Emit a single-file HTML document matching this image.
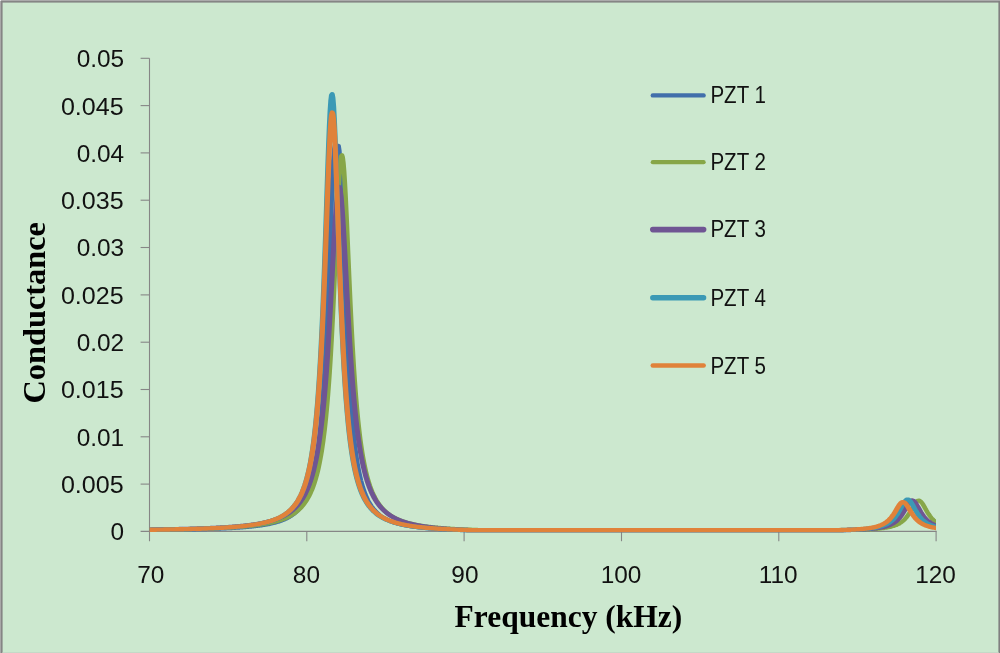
<!DOCTYPE html>
<html lang="en">
<head>
<meta charset="utf-8">
<title>Conductance vs Frequency</title>
<style>
html,body{margin:0;padding:0;background:#cce8cf;}
body{width:1000px;height:653px;overflow:hidden;position:relative;}
svg{position:absolute;left:0;top:0;display:block;}
.tick{font-family:"Liberation Sans",Arial,sans-serif;font-size:24.4px;fill:#111;}
.leg{font-family:"Liberation Sans",Arial,sans-serif;font-size:23px;fill:#111;}
.ttl{font-family:"Liberation Serif","Times New Roman",serif;font-weight:bold;font-size:30.5px;fill:#000;}
.vttl{font-family:"Liberation Serif","Times New Roman",serif;font-weight:bold;font-size:32px;fill:#000;}
</style>
</head>
<body>
<svg width="1000" height="653" viewBox="0 0 1000 653">
<rect x="0" y="0" width="1000" height="653" fill="#cce8cf"/>
<!-- frame -->
<rect x="0" y="0" width="1000" height="1" fill="#ababab"/>
<rect x="0" y="1" width="1000" height="1.6" fill="#858585"/>
<rect x="0" y="0" width="1" height="653" fill="#a8a8a8"/>
<rect x="1" y="1" width="1.6" height="653" fill="#858585"/>
<rect x="998.4" y="1" width="1.6" height="653" fill="#808080"/>
<rect x="2.6" y="652" width="996" height="1" fill="#c4d9c7"/>
<rect x="0" y="0" width="1" height="1" fill="#e8e8e8"/>

<g stroke="#868686" stroke-width="1.1" fill="none">
<path d="M149.5,58.3 V541.2"/>
<path d="M140.6,531.4 H936.7"/>
<path d="M140.6,484.1 H149.5"/>
<path d="M140.6,436.8 H149.5"/>
<path d="M140.6,389.5 H149.5"/>
<path d="M140.6,342.2 H149.5"/>
<path d="M140.6,294.9 H149.5"/>
<path d="M140.6,247.5 H149.5"/>
<path d="M140.6,200.2 H149.5"/>
<path d="M140.6,152.9 H149.5"/>
<path d="M140.6,105.6 H149.5"/>
<path d="M140.6,58.3 H149.5"/>
<path d="M306.8,531.4 V541.2"/>
<path d="M464.1,531.4 V541.2"/>
<path d="M621.5,531.4 V541.2"/>
<path d="M778.8,531.4 V541.2"/>
<path d="M936.1,531.4 V541.2"/>
</g>
<text class="tick" x="124.2" y="540.3" text-anchor="end">0</text>
<text class="tick" x="60.9" y="493.0" textLength="62.7" lengthAdjust="spacingAndGlyphs">0.005</text>
<text class="tick" x="124.2" y="445.7" text-anchor="end">0.01</text>
<text class="tick" x="60.9" y="398.4" textLength="62.7" lengthAdjust="spacingAndGlyphs">0.015</text>
<text class="tick" x="124.2" y="351.1" text-anchor="end">0.02</text>
<text class="tick" x="60.9" y="303.8" textLength="62.7" lengthAdjust="spacingAndGlyphs">0.025</text>
<text class="tick" x="124.2" y="256.4" text-anchor="end">0.03</text>
<text class="tick" x="60.9" y="209.1" textLength="62.7" lengthAdjust="spacingAndGlyphs">0.035</text>
<text class="tick" x="124.2" y="161.8" text-anchor="end">0.04</text>
<text class="tick" x="60.9" y="114.5" textLength="62.7" lengthAdjust="spacingAndGlyphs">0.045</text>
<text class="tick" x="124.2" y="67.2" text-anchor="end">0.05</text>
<text class="tick" x="150.8" y="583.1" text-anchor="middle">70</text>
<text class="tick" x="306.4" y="583.1" text-anchor="middle">80</text>
<text class="tick" x="464.9" y="583.1" text-anchor="middle">90</text>
<text class="tick" x="621.0" y="583.1" text-anchor="middle">100</text>
<text class="tick" x="778.2" y="583.1" text-anchor="middle">110</text>
<text class="tick" x="935.5" y="583.1" text-anchor="middle">120</text>
<clipPath id="plotclip"><rect x="140" y="40" width="796.1" height="510"/></clipPath>
<g fill="none" stroke-linejoin="round" stroke-linecap="butt" clip-path="url(#plotclip)"><g transform="scale(1.17,1)">
<path stroke="#416fab" stroke-width="4.1" d="M127.78,530.0 L128.38,530.0 L128.97,530.0 L129.57,530.0 L130.17,530.0 L130.77,530.0 L131.37,530.0 L131.97,530.0 L132.56,530.0 L133.16,530.0 L133.76,529.9 L134.36,529.9 L134.96,529.9 L135.56,529.9 L136.15,529.9 L136.75,529.9 L137.35,529.9 L137.95,529.9 L138.55,529.9 L139.15,529.9 L139.74,529.9 L140.34,529.9 L140.94,529.9 L141.54,529.8 L142.14,529.8 L142.74,529.8 L143.33,529.8 L143.93,529.8 L144.53,529.8 L145.13,529.8 L145.73,529.8 L146.32,529.8 L146.92,529.8 L147.52,529.7 L148.12,529.7 L148.72,529.7 L149.32,529.7 L149.91,529.7 L150.51,529.7 L151.11,529.7 L151.71,529.7 L152.31,529.7 L152.91,529.7 L153.50,529.6 L154.10,529.6 L154.70,529.6 L155.30,529.6 L155.90,529.6 L156.50,529.6 L157.09,529.6 L157.69,529.6 L158.29,529.5 L158.89,529.5 L159.49,529.5 L160.09,529.5 L160.68,529.5 L161.28,529.5 L161.88,529.5 L162.48,529.5 L163.08,529.4 L163.68,529.4 L164.27,529.4 L164.87,529.4 L165.47,529.4 L166.07,529.4 L166.67,529.4 L167.26,529.3 L167.86,529.3 L168.46,529.3 L169.06,529.3 L169.66,529.3 L170.26,529.3 L170.85,529.2 L171.45,529.2 L172.05,529.2 L172.65,529.2 L173.25,529.2 L173.85,529.2 L174.44,529.1 L175.04,529.1 L175.64,529.1 L176.24,529.1 L176.84,529.1 L177.44,529.0 L178.03,529.0 L178.63,529.0 L179.23,529.0 L179.83,529.0 L180.43,528.9 L181.03,528.9 L181.62,528.9 L182.22,528.9 L182.82,528.8 L183.42,528.8 L184.02,528.8 L184.62,528.8 L185.21,528.7 L185.81,528.7 L186.41,528.7 L187.01,528.7 L187.61,528.6 L188.21,528.6 L188.80,528.6 L189.40,528.5 L190.00,528.5 L190.60,528.5 L191.20,528.5 L191.79,528.4 L192.39,528.4 L192.99,528.4 L193.59,528.3 L194.19,528.3 L194.79,528.3 L195.38,528.2 L195.98,528.2 L196.58,528.2 L197.18,528.1 L197.78,528.1 L198.38,528.1 L198.97,528.0 L199.57,528.0 L200.17,527.9 L200.77,527.9 L201.37,527.8 L201.97,527.8 L202.56,527.8 L203.16,527.7 L203.76,527.7 L204.36,527.6 L204.96,527.6 L205.56,527.5 L206.15,527.5 L206.75,527.4 L207.35,527.4 L207.95,527.3 L208.55,527.3 L209.15,527.2 L209.74,527.2 L210.34,527.1 L210.94,527.0 L211.54,527.0 L212.14,526.9 L212.74,526.8 L213.33,526.8 L213.93,526.7 L214.53,526.6 L215.13,526.6 L215.73,526.5 L216.32,526.4 L216.92,526.3 L217.52,526.3 L218.12,526.2 L218.72,526.1 L219.32,526.0 L219.91,525.9 L220.51,525.8 L221.11,525.8 L221.71,525.7 L222.31,525.6 L222.91,525.5 L223.50,525.4 L224.10,525.3 L224.70,525.1 L225.30,525.0 L225.90,524.9 L226.50,524.8 L227.09,524.7 L227.69,524.6 L228.29,524.4 L228.89,524.3 L229.49,524.2 L230.09,524.0 L230.68,523.9 L231.28,523.7 L231.88,523.6 L232.48,523.4 L233.08,523.2 L233.68,523.1 L234.27,522.9 L234.87,522.7 L235.47,522.5 L236.07,522.3 L236.67,522.1 L237.26,521.9 L237.86,521.7 L238.46,521.5 L239.06,521.2 L239.66,521.0 L240.26,520.7 L240.85,520.5 L241.45,520.2 L242.05,519.9 L242.65,519.6 L243.25,519.3 L243.85,519.0 L244.44,518.7 L245.04,518.3 L245.64,518.0 L246.24,517.6 L246.84,517.2 L247.44,516.8 L248.03,516.4 L248.63,516.0 L249.23,515.5 L249.83,515.0 L250.43,514.5 L251.03,514.0 L251.62,513.4 L252.22,512.8 L252.82,512.2 L253.42,511.5 L254.02,510.9 L254.62,510.1 L255.21,509.4 L255.81,508.6 L256.41,507.7 L257.01,506.9 L257.61,505.9 L258.21,504.9 L258.80,503.9 L259.40,502.7 L260.00,501.6 L260.60,500.3 L261.20,499.0 L261.79,497.5 L262.39,496.0 L262.99,494.4 L263.59,492.6 L264.19,490.8 L264.79,488.8 L265.38,486.6 L265.98,484.3 L266.58,481.8 L267.18,479.2 L267.78,476.3 L268.38,473.2 L268.97,469.8 L269.57,466.2 L270.17,462.2 L270.77,457.9 L271.37,453.2 L271.97,448.0 L272.56,442.4 L273.16,436.3 L273.76,429.6 L274.36,422.3 L274.96,414.2 L275.56,405.4 L276.15,395.7 L276.75,385.0 L277.35,373.4 L277.95,360.7 L278.55,346.8 L279.15,331.7 L279.74,315.5 L280.34,298.1 L280.94,279.7 L281.54,260.5 L282.14,240.9 L282.74,221.3 L283.33,202.4 L283.93,184.9 L284.53,169.7 L285.13,157.7 L285.73,149.5 L286.32,145.8 L286.92,145.6 L287.52,145.6 L288.12,145.6 L288.72,145.6 L289.32,146.0 L289.91,150.4 L290.51,159.2 L291.11,171.8 L291.71,187.4 L292.31,205.1 L292.91,224.2 L293.50,243.9 L294.10,263.5 L294.70,282.7 L295.30,301.0 L295.90,318.3 L296.50,334.4 L297.09,349.3 L297.69,363.1 L298.29,375.7 L298.89,387.3 L299.49,397.8 L300.09,407.4 L300.68,416.2 L301.28,424.2 L301.88,431.4 L302.48,438.1 L303.08,444.1 L303.68,449.7 L304.27,454.8 L304.87,459.4 L305.47,463.7 L306.07,467.7 L306.67,471.3 L307.26,474.6 L307.86,477.7 L308.46,480.6 L309.06,483.2 L309.66,485.7 L310.26,488.0 L310.85,490.1 L311.45,492.1 L312.05,494.0 L312.65,495.7 L313.25,497.3 L313.85,498.8 L314.44,500.3 L315.04,501.6 L315.64,502.8 L316.24,504.0 L316.84,505.1 L317.44,506.2 L318.03,507.2 L318.63,508.1 L319.23,509.0 L319.83,509.8 L320.43,510.6 L321.03,511.4 L321.62,512.1 L322.22,512.8 L322.82,513.4 L323.42,514.0 L324.02,514.6 L324.62,515.2 L325.21,515.7 L325.81,516.2 L326.41,516.7 L327.01,517.2 L327.61,517.6 L328.21,518.0 L328.80,518.4 L329.40,518.8 L330.00,519.2 L330.60,519.6 L331.20,519.9 L331.79,520.2 L332.39,520.5 L332.99,520.8 L333.59,521.1 L334.19,521.4 L334.79,521.7 L335.38,522.0 L335.98,522.2 L336.58,522.4 L337.18,522.7 L337.78,522.9 L338.38,523.1 L338.97,523.3 L339.57,523.5 L340.17,523.7 L340.77,523.9 L341.37,524.1 L341.97,524.3 L342.56,524.4 L343.16,524.6 L343.76,524.8 L344.36,524.9 L344.96,525.1 L345.56,525.2 L346.15,525.4 L346.75,525.5 L347.35,525.6 L347.95,525.8 L348.55,525.9 L349.15,526.0 L349.74,526.1 L350.34,526.2 L350.94,526.3 L351.54,526.5 L352.14,526.6 L352.74,526.7 L353.33,526.8 L353.93,526.9 L354.53,527.0 L355.13,527.0 L355.73,527.1 L356.32,527.2 L356.92,527.3 L357.52,527.4 L358.12,527.5 L358.72,527.5 L359.32,527.6 L359.91,527.7 L360.51,527.8 L361.11,527.8 L361.71,527.9 L362.31,528.0 L362.91,528.0 L363.50,528.1 L364.10,528.2 L364.70,528.2 L365.30,528.3 L365.90,528.3 L366.50,528.4 L367.09,528.5 L367.69,528.5 L368.29,528.6 L368.89,528.6 L369.49,528.7 L370.09,528.7 L370.68,528.8 L371.28,528.8 L371.88,528.9 L372.48,528.9 L373.08,529.0 L373.68,529.0 L374.27,529.0 L374.87,529.1 L375.47,529.1 L376.07,529.2 L376.67,529.2 L377.26,529.2 L377.86,529.3 L378.46,529.3 L379.06,529.4 L379.66,529.4 L380.26,529.4 L380.85,529.5 L381.45,529.5 L382.05,529.5 L382.65,529.6 L383.25,529.6 L383.85,529.6 L384.44,529.7 L385.04,529.7 L385.64,529.7 L386.24,529.7 L386.84,529.8 L387.44,529.8 L388.03,529.8 L388.63,529.9 L389.23,529.9 L389.83,529.9 L390.43,529.9 L391.03,530.0 L391.62,530.0 L392.22,530.0 L392.82,530.0 L393.42,530.1 L394.02,530.1 L394.62,530.1 L395.21,530.1 L395.81,530.1 L396.41,530.1 L397.01,530.1 L397.61,530.1 L398.21,530.1 L398.80,530.1 L399.40,530.1 L400.00,530.1 L400.60,530.1 L401.20,530.1 L401.79,530.1 L402.39,530.1 L402.99,530.1 L403.59,530.1 L404.19,530.1 L404.79,530.1 L405.38,530.1 L405.98,530.1 L406.58,530.1 L407.18,530.1 L407.78,530.1 L408.38,530.1 L408.97,530.1 L409.57,530.1 L410.17,530.1 L410.77,530.1 L411.37,530.1 L411.97,530.1 L412.56,530.1 L413.16,530.1 L413.76,530.1 L414.36,530.1 L414.96,530.1 L415.56,530.1 L416.15,530.1 L416.75,530.1 L417.35,530.1 L417.95,530.1 L418.55,530.1 L419.15,530.1 L419.74,530.1 L420.34,530.1 L420.94,530.1 L421.54,530.1 L422.14,530.1 L422.74,530.1 L423.33,530.1 L423.93,530.1 L424.53,530.1 L425.13,530.1 L425.73,530.1 L426.32,530.1 L426.92,530.1 L427.52,530.1 L428.12,530.1 L428.72,530.1 L429.32,530.1 L429.91,530.1 L430.51,530.1 L431.11,530.1 L431.71,530.1 L432.31,530.1 L432.91,530.1 L433.50,530.1 L434.10,530.1 L434.70,530.1 L435.30,530.1 L435.90,530.1 L436.50,530.1 L437.09,530.1 L437.69,530.1 L438.29,530.1 L438.89,530.1 L439.49,530.1 L440.09,530.1 L440.68,530.1 L441.28,530.1 L441.88,530.1 L442.48,530.1 L443.08,530.1 L443.68,530.1 L444.27,530.1 L444.87,530.1 L445.47,530.1 L446.07,530.1 L446.67,530.1 L447.26,530.1 L447.86,530.1 L448.46,530.1 L449.06,530.1 L449.66,530.1 L450.26,530.1 L450.85,530.1 L451.45,530.1 L452.05,530.1 L452.65,530.1 L453.25,530.1 L453.85,530.1 L454.44,530.1 L455.04,530.1 L455.64,530.1 L456.24,530.1 L456.84,530.1 L457.44,530.1 L458.03,530.1 L458.63,530.1 L459.23,530.1 L459.83,530.1 L460.43,530.1 L461.03,530.1 L461.62,530.1 L462.22,530.1 L462.82,530.1 L463.42,530.1 L464.02,530.1 L464.62,530.1 L465.21,530.1 L465.81,530.1 L466.41,530.1 L467.01,530.1 L467.61,530.1 L468.21,530.1 L468.80,530.1 L469.40,530.1 L470.00,530.1 L470.60,530.1 L471.20,530.1 L471.79,530.1 L472.39,530.1 L472.99,530.1 L473.59,530.1 L474.19,530.1 L474.79,530.1 L475.38,530.1 L475.98,530.1 L476.58,530.1 L477.18,530.1 L477.78,530.1 L478.38,530.1 L478.97,530.1 L479.57,530.1 L480.17,530.1 L480.77,530.1 L481.37,530.1 L481.97,530.1 L482.56,530.1 L483.16,530.1 L483.76,530.1 L484.36,530.1 L484.96,530.1 L485.56,530.1 L486.15,530.1 L486.75,530.1 L487.35,530.1 L487.95,530.1 L488.55,530.1 L489.15,530.1 L489.74,530.1 L490.34,530.1 L490.94,530.1 L491.54,530.1 L492.14,530.1 L492.74,530.1 L493.33,530.1 L493.93,530.1 L494.53,530.1 L495.13,530.1 L495.73,530.1 L496.32,530.1 L496.92,530.1 L497.52,530.1 L498.12,530.1 L498.72,530.1 L499.32,530.1 L499.91,530.1 L500.51,530.1 L501.11,530.1 L501.71,530.1 L502.31,530.1 L502.91,530.1 L503.50,530.1 L504.10,530.1 L504.70,530.1 L505.30,530.1 L505.90,530.1 L506.50,530.1 L507.09,530.1 L507.69,530.1 L508.29,530.1 L508.89,530.1 L509.49,530.1 L510.09,530.1 L510.68,530.1 L511.28,530.1 L511.88,530.1 L512.48,530.1 L513.08,530.1 L513.68,530.1 L514.27,530.1 L514.87,530.1 L515.47,530.1 L516.07,530.1 L516.67,530.1 L517.26,530.1 L517.86,530.1 L518.46,530.1 L519.06,530.1 L519.66,530.1 L520.26,530.1 L520.85,530.1 L521.45,530.1 L522.05,530.1 L522.65,530.1 L523.25,530.1 L523.85,530.1 L524.44,530.1 L525.04,530.1 L525.64,530.1 L526.24,530.1 L526.84,530.1 L527.44,530.1 L528.03,530.1 L528.63,530.1 L529.23,530.1 L529.83,530.1 L530.43,530.1 L531.03,530.1 L531.62,530.1 L532.22,530.1 L532.82,530.1 L533.42,530.1 L534.02,530.1 L534.62,530.1 L535.21,530.1 L535.81,530.1 L536.41,530.1 L537.01,530.1 L537.61,530.1 L538.21,530.1 L538.80,530.1 L539.40,530.1 L540.00,530.1 L540.60,530.1 L541.20,530.1 L541.79,530.1 L542.39,530.1 L542.99,530.1 L543.59,530.1 L544.19,530.1 L544.79,530.1 L545.38,530.1 L545.98,530.1 L546.58,530.1 L547.18,530.1 L547.78,530.1 L548.38,530.1 L548.97,530.1 L549.57,530.1 L550.17,530.1 L550.77,530.1 L551.37,530.1 L551.97,530.1 L552.56,530.1 L553.16,530.1 L553.76,530.1 L554.36,530.1 L554.96,530.1 L555.56,530.1 L556.15,530.1 L556.75,530.1 L557.35,530.1 L557.95,530.1 L558.55,530.1 L559.15,530.1 L559.74,530.1 L560.34,530.1 L560.94,530.1 L561.54,530.1 L562.14,530.1 L562.74,530.1 L563.33,530.1 L563.93,530.1 L564.53,530.1 L565.13,530.1 L565.73,530.1 L566.32,530.1 L566.92,530.1 L567.52,530.1 L568.12,530.1 L568.72,530.1 L569.32,530.1 L569.91,530.1 L570.51,530.1 L571.11,530.1 L571.71,530.1 L572.31,530.1 L572.91,530.1 L573.50,530.1 L574.10,530.1 L574.70,530.1 L575.30,530.1 L575.90,530.1 L576.50,530.1 L577.09,530.1 L577.69,530.1 L578.29,530.1 L578.89,530.1 L579.49,530.1 L580.09,530.1 L580.68,530.1 L581.28,530.1 L581.88,530.1 L582.48,530.1 L583.08,530.1 L583.68,530.1 L584.27,530.1 L584.87,530.1 L585.47,530.1 L586.07,530.1 L586.67,530.1 L587.26,530.1 L587.86,530.1 L588.46,530.1 L589.06,530.1 L589.66,530.1 L590.26,530.1 L590.85,530.1 L591.45,530.1 L592.05,530.1 L592.65,530.1 L593.25,530.1 L593.85,530.1 L594.44,530.1 L595.04,530.1 L595.64,530.1 L596.24,530.1 L596.84,530.1 L597.44,530.1 L598.03,530.1 L598.63,530.1 L599.23,530.1 L599.83,530.1 L600.43,530.1 L601.03,530.1 L601.62,530.1 L602.22,530.1 L602.82,530.1 L603.42,530.1 L604.02,530.1 L604.62,530.1 L605.21,530.1 L605.81,530.1 L606.41,530.1 L607.01,530.1 L607.61,530.1 L608.21,530.1 L608.80,530.1 L609.40,530.1 L610.00,530.1 L610.60,530.1 L611.20,530.1 L611.79,530.1 L612.39,530.1 L612.99,530.1 L613.59,530.1 L614.19,530.1 L614.79,530.1 L615.38,530.1 L615.98,530.1 L616.58,530.1 L617.18,530.1 L617.78,530.1 L618.38,530.1 L618.97,530.1 L619.57,530.1 L620.17,530.1 L620.77,530.1 L621.37,530.1 L621.97,530.1 L622.56,530.1 L623.16,530.1 L623.76,530.1 L624.36,530.1 L624.96,530.1 L625.56,530.1 L626.15,530.1 L626.75,530.1 L627.35,530.1 L627.95,530.1 L628.55,530.1 L629.15,530.1 L629.74,530.1 L630.34,530.1 L630.94,530.1 L631.54,530.1 L632.14,530.1 L632.74,530.1 L633.33,530.1 L633.93,530.1 L634.53,530.1 L635.13,530.1 L635.73,530.1 L636.32,530.1 L636.92,530.1 L637.52,530.1 L638.12,530.1 L638.72,530.1 L639.32,530.1 L639.91,530.1 L640.51,530.1 L641.11,530.1 L641.71,530.1 L642.31,530.1 L642.91,530.1 L643.50,530.1 L644.10,530.1 L644.70,530.1 L645.30,530.1 L645.90,530.1 L646.50,530.1 L647.09,530.1 L647.69,530.1 L648.29,530.1 L648.89,530.1 L649.49,530.1 L650.09,530.1 L650.68,530.1 L651.28,530.1 L651.88,530.1 L652.48,530.1 L653.08,530.1 L653.68,530.1 L654.27,530.1 L654.87,530.1 L655.47,530.1 L656.07,530.1 L656.67,530.1 L657.26,530.1 L657.86,530.1 L658.46,530.1 L659.06,530.1 L659.66,530.1 L660.26,530.1 L660.85,530.1 L661.45,530.1 L662.05,530.1 L662.65,530.1 L663.25,530.1 L663.85,530.1 L664.44,530.1 L665.04,530.1 L665.64,530.1 L666.24,530.1 L666.84,530.1 L667.44,530.1 L668.03,530.1 L668.63,530.1 L669.23,530.1 L669.83,530.1 L670.43,530.1 L671.03,530.1 L671.62,530.1 L672.22,530.1 L672.82,530.1 L673.42,530.1 L674.02,530.1 L674.62,530.1 L675.21,530.1 L675.81,530.1 L676.41,530.1 L677.01,530.1 L677.61,530.1 L678.21,530.1 L678.80,530.1 L679.40,530.1 L680.00,530.1 L680.60,530.1 L681.20,530.1 L681.79,530.1 L682.39,530.1 L682.99,530.1 L683.59,530.1 L684.19,530.1 L684.79,530.1 L685.38,530.1 L685.98,530.1 L686.58,530.1 L687.18,530.1 L687.78,530.1 L688.38,530.1 L688.97,530.1 L689.57,530.1 L690.17,530.1 L690.77,530.1 L691.37,530.1 L691.97,530.1 L692.56,530.1 L693.16,530.1 L693.76,530.1 L694.36,530.1 L694.96,530.1 L695.56,530.1 L696.15,530.1 L696.75,530.1 L697.35,530.1 L697.95,530.1 L698.55,530.1 L699.15,530.1 L699.74,530.1 L700.34,530.1 L700.94,530.1 L701.54,530.1 L702.14,530.1 L702.74,530.1 L703.33,530.1 L703.93,530.1 L704.53,530.1 L705.13,530.1 L705.73,530.1 L706.32,530.1 L706.92,530.1 L707.52,530.1 L708.12,530.1 L708.72,530.1 L709.32,530.1 L709.91,530.1 L710.51,530.1 L711.11,530.1 L711.71,530.1 L712.31,530.1 L712.91,530.1 L713.50,530.1 L714.10,530.1 L714.70,530.1 L715.30,530.1 L715.90,530.1 L716.50,530.1 L717.09,530.1 L717.69,530.1 L718.29,530.1 L718.89,530.1 L719.49,530.1 L720.09,530.1 L720.68,530.1 L721.28,530.0 L721.88,530.0 L722.48,530.0 L723.08,530.0 L723.68,530.0 L724.27,529.9 L724.87,529.9 L725.47,529.9 L726.07,529.9 L726.67,529.9 L727.26,529.8 L727.86,529.8 L728.46,529.8 L729.06,529.8 L729.66,529.7 L730.26,529.7 L730.85,529.7 L731.45,529.6 L732.05,529.6 L732.65,529.6 L733.25,529.5 L733.85,529.5 L734.44,529.5 L735.04,529.4 L735.64,529.4 L736.24,529.3 L736.84,529.3 L737.44,529.3 L738.03,529.2 L738.63,529.2 L739.23,529.1 L739.83,529.1 L740.43,529.0 L741.03,528.9 L741.62,528.9 L742.22,528.8 L742.82,528.8 L743.42,528.7 L744.02,528.6 L744.62,528.5 L745.21,528.5 L745.81,528.4 L746.41,528.3 L747.01,528.2 L747.61,528.1 L748.21,528.0 L748.80,527.9 L749.40,527.8 L750.00,527.6 L750.60,527.5 L751.20,527.4 L751.79,527.2 L752.39,527.1 L752.99,526.9 L753.59,526.7 L754.19,526.6 L754.79,526.4 L755.38,526.2 L755.98,525.9 L756.58,525.7 L757.18,525.5 L757.78,525.2 L758.38,524.9 L758.97,524.6 L759.57,524.3 L760.17,523.9 L760.77,523.6 L761.37,523.2 L761.97,522.7 L762.56,522.3 L763.16,521.8 L763.76,521.2 L764.36,520.7 L764.96,520.1 L765.56,519.4 L766.15,518.7 L766.75,517.9 L767.35,517.1 L767.95,516.3 L768.55,515.3 L769.15,514.4 L769.74,513.3 L770.34,512.3 L770.94,511.2 L771.54,510.0 L772.14,508.9 L772.74,507.7 L773.33,506.6 L773.93,505.5 L774.53,504.5 L775.13,503.6 L775.73,502.8 L776.32,502.2 L776.92,501.8 L777.52,501.6 L778.12,501.6 L778.72,501.9 L779.32,502.3 L779.91,502.9 L780.51,503.7 L781.11,504.6 L781.71,505.6 L782.31,506.7 L782.91,507.9 L783.50,509.0 L784.10,510.2 L784.70,511.3 L785.30,512.4 L785.90,513.5 L786.50,514.5 L787.09,515.5 L787.69,516.4 L788.29,517.2 L788.89,518.0 L789.49,518.8 L790.09,519.5 L790.68,520.1 L791.28,520.8 L791.88,521.3 L792.48,521.8 L793.08,522.3 L793.68,522.8 L794.27,523.2 L794.87,523.6 L795.47,524.0 L796.07,524.3 L796.67,524.7 L797.26,525.0 L797.86,525.2 L798.46,525.5 L799.06,525.7 L799.66,526.0 L800.26,526.2 L800.85,526.4 L801.45,526.6 L802.05,526.8 L802.65,526.9 L803.25,527.1"/>
<path stroke="#87a648" stroke-width="4.0" d="M127.78,529.8 L128.38,529.8 L128.97,529.8 L129.57,529.8 L130.17,529.8 L130.77,529.7 L131.37,529.7 L131.97,529.7 L132.56,529.7 L133.16,529.7 L133.76,529.7 L134.36,529.7 L134.96,529.7 L135.56,529.7 L136.15,529.7 L136.75,529.7 L137.35,529.6 L137.95,529.6 L138.55,529.6 L139.15,529.6 L139.74,529.6 L140.34,529.6 L140.94,529.6 L141.54,529.6 L142.14,529.6 L142.74,529.5 L143.33,529.5 L143.93,529.5 L144.53,529.5 L145.13,529.5 L145.73,529.5 L146.32,529.5 L146.92,529.5 L147.52,529.5 L148.12,529.4 L148.72,529.4 L149.32,529.4 L149.91,529.4 L150.51,529.4 L151.11,529.4 L151.71,529.4 L152.31,529.4 L152.91,529.3 L153.50,529.3 L154.10,529.3 L154.70,529.3 L155.30,529.3 L155.90,529.3 L156.50,529.3 L157.09,529.2 L157.69,529.2 L158.29,529.2 L158.89,529.2 L159.49,529.2 L160.09,529.2 L160.68,529.2 L161.28,529.1 L161.88,529.1 L162.48,529.1 L163.08,529.1 L163.68,529.1 L164.27,529.1 L164.87,529.0 L165.47,529.0 L166.07,529.0 L166.67,529.0 L167.26,529.0 L167.86,529.0 L168.46,528.9 L169.06,528.9 L169.66,528.9 L170.26,528.9 L170.85,528.9 L171.45,528.8 L172.05,528.8 L172.65,528.8 L173.25,528.8 L173.85,528.8 L174.44,528.7 L175.04,528.7 L175.64,528.7 L176.24,528.7 L176.84,528.6 L177.44,528.6 L178.03,528.6 L178.63,528.6 L179.23,528.5 L179.83,528.5 L180.43,528.5 L181.03,528.5 L181.62,528.4 L182.22,528.4 L182.82,528.4 L183.42,528.4 L184.02,528.3 L184.62,528.3 L185.21,528.3 L185.81,528.2 L186.41,528.2 L187.01,528.2 L187.61,528.2 L188.21,528.1 L188.80,528.1 L189.40,528.1 L190.00,528.0 L190.60,528.0 L191.20,528.0 L191.79,527.9 L192.39,527.9 L192.99,527.8 L193.59,527.8 L194.19,527.8 L194.79,527.7 L195.38,527.7 L195.98,527.7 L196.58,527.6 L197.18,527.6 L197.78,527.5 L198.38,527.5 L198.97,527.4 L199.57,527.4 L200.17,527.4 L200.77,527.3 L201.37,527.3 L201.97,527.2 L202.56,527.2 L203.16,527.1 L203.76,527.1 L204.36,527.0 L204.96,527.0 L205.56,526.9 L206.15,526.9 L206.75,526.8 L207.35,526.7 L207.95,526.7 L208.55,526.6 L209.15,526.6 L209.74,526.5 L210.34,526.4 L210.94,526.4 L211.54,526.3 L212.14,526.2 L212.74,526.2 L213.33,526.1 L213.93,526.0 L214.53,525.9 L215.13,525.9 L215.73,525.8 L216.32,525.7 L216.92,525.6 L217.52,525.5 L218.12,525.5 L218.72,525.4 L219.32,525.3 L219.91,525.2 L220.51,525.1 L221.11,525.0 L221.71,524.9 L222.31,524.8 L222.91,524.7 L223.50,524.6 L224.10,524.5 L224.70,524.4 L225.30,524.3 L225.90,524.1 L226.50,524.0 L227.09,523.9 L227.69,523.8 L228.29,523.6 L228.89,523.5 L229.49,523.4 L230.09,523.2 L230.68,523.1 L231.28,522.9 L231.88,522.8 L232.48,522.6 L233.08,522.4 L233.68,522.3 L234.27,522.1 L234.87,521.9 L235.47,521.7 L236.07,521.5 L236.67,521.3 L237.26,521.1 L237.86,520.9 L238.46,520.7 L239.06,520.5 L239.66,520.2 L240.26,520.0 L240.85,519.8 L241.45,519.5 L242.05,519.2 L242.65,519.0 L243.25,518.7 L243.85,518.4 L244.44,518.1 L245.04,517.8 L245.64,517.4 L246.24,517.1 L246.84,516.7 L247.44,516.4 L248.03,516.0 L248.63,515.6 L249.23,515.2 L249.83,514.8 L250.43,514.3 L251.03,513.8 L251.62,513.4 L252.22,512.9 L252.82,512.3 L253.42,511.8 L254.02,511.2 L254.62,510.6 L255.21,510.0 L255.81,509.3 L256.41,508.6 L257.01,507.9 L257.61,507.2 L258.21,506.4 L258.80,505.6 L259.40,504.7 L260.00,503.8 L260.60,502.8 L261.20,501.8 L261.79,500.7 L262.39,499.6 L262.99,498.4 L263.59,497.2 L264.19,495.9 L264.79,494.5 L265.38,493.0 L265.98,491.4 L266.58,489.8 L267.18,488.0 L267.78,486.1 L268.38,484.1 L268.97,482.0 L269.57,479.7 L270.17,477.3 L270.77,474.7 L271.37,472.0 L271.97,469.0 L272.56,465.9 L273.16,462.5 L273.76,458.8 L274.36,454.9 L274.96,450.7 L275.56,446.1 L276.15,441.2 L276.75,435.9 L277.35,430.2 L277.95,424.0 L278.55,417.3 L279.15,410.1 L279.74,402.3 L280.34,393.8 L280.94,384.6 L281.54,374.8 L282.14,364.1 L282.74,352.6 L283.33,340.4 L283.93,327.2 L284.53,313.3 L285.13,298.6 L285.73,283.3 L286.32,267.4 L286.92,251.2 L287.52,234.9 L288.12,219.0 L288.72,203.8 L289.32,189.9 L289.91,177.6 L290.51,167.6 L291.11,160.4 L291.71,156.1 L292.31,155.2 L292.91,157.6 L293.50,163.1 L294.10,171.6 L294.70,182.6 L295.30,195.7 L295.90,210.3 L296.50,225.9 L297.09,242.0 L297.69,258.3 L298.29,274.5 L298.89,290.2 L299.49,305.3 L300.09,319.8 L300.68,333.4 L301.28,346.2 L301.88,358.2 L302.48,369.3 L303.08,379.7 L303.68,389.3 L304.27,398.2 L304.87,406.4 L305.47,414.0 L306.07,421.0 L306.67,427.5 L307.26,433.5 L307.86,439.1 L308.46,444.2 L309.06,449.0 L309.66,453.4 L310.26,457.5 L310.85,461.4 L311.45,464.9 L312.05,468.2 L312.65,471.3 L313.25,474.2 L313.85,476.9 L314.44,479.4 L315.04,481.8 L315.64,484.0 L316.24,486.1 L316.84,488.0 L317.44,489.8 L318.03,491.6 L318.63,493.2 L319.23,494.7 L319.83,496.2 L320.43,497.5 L321.03,498.8 L321.62,500.1 L322.22,501.2 L322.82,502.3 L323.42,503.4 L324.02,504.3 L324.62,505.3 L325.21,506.2 L325.81,507.0 L326.41,507.9 L327.01,508.6 L327.61,509.4 L328.21,510.1 L328.80,510.7 L329.40,511.4 L330.00,512.0 L330.60,512.6 L331.20,513.2 L331.79,513.7 L332.39,514.2 L332.99,514.7 L333.59,515.2 L334.19,515.6 L334.79,516.1 L335.38,516.5 L335.98,516.9 L336.58,517.3 L337.18,517.7 L337.78,518.0 L338.38,518.4 L338.97,518.7 L339.57,519.0 L340.17,519.4 L340.77,519.7 L341.37,520.0 L341.97,520.2 L342.56,520.5 L343.16,520.8 L343.76,521.0 L344.36,521.3 L344.96,521.5 L345.56,521.7 L346.15,522.0 L346.75,522.2 L347.35,522.4 L347.95,522.6 L348.55,522.8 L349.15,523.0 L349.74,523.2 L350.34,523.3 L350.94,523.5 L351.54,523.7 L352.14,523.8 L352.74,524.0 L353.33,524.2 L353.93,524.3 L354.53,524.4 L355.13,524.6 L355.73,524.7 L356.32,524.9 L356.92,525.0 L357.52,525.1 L358.12,525.2 L358.72,525.4 L359.32,525.5 L359.91,525.6 L360.51,525.7 L361.11,525.8 L361.71,525.9 L362.31,526.0 L362.91,526.1 L363.50,526.2 L364.10,526.3 L364.70,526.4 L365.30,526.5 L365.90,526.6 L366.50,526.7 L367.09,526.8 L367.69,526.8 L368.29,526.9 L368.89,527.0 L369.49,527.1 L370.09,527.2 L370.68,527.2 L371.28,527.3 L371.88,527.4 L372.48,527.4 L373.08,527.5 L373.68,527.6 L374.27,527.6 L374.87,527.7 L375.47,527.8 L376.07,527.8 L376.67,527.9 L377.26,528.0 L377.86,528.0 L378.46,528.1 L379.06,528.1 L379.66,528.2 L380.26,528.2 L380.85,528.3 L381.45,528.3 L382.05,528.4 L382.65,528.4 L383.25,528.5 L383.85,528.5 L384.44,528.6 L385.04,528.6 L385.64,528.7 L386.24,528.7 L386.84,528.7 L387.44,528.8 L388.03,528.8 L388.63,528.9 L389.23,528.9 L389.83,528.9 L390.43,529.0 L391.03,529.0 L391.62,529.1 L392.22,529.1 L392.82,529.1 L393.42,529.2 L394.02,529.2 L394.62,529.2 L395.21,529.3 L395.81,529.3 L396.41,529.3 L397.01,529.4 L397.61,529.4 L398.21,529.4 L398.80,529.4 L399.40,529.5 L400.00,529.5 L400.60,529.5 L401.20,529.6 L401.79,529.6 L402.39,529.6 L402.99,529.6 L403.59,529.7 L404.19,529.7 L404.79,529.7 L405.38,529.7 L405.98,529.8 L406.58,529.8 L407.18,529.8 L407.78,529.8 L408.38,529.9 L408.97,529.9 L409.57,529.9 L410.17,529.9 L410.77,530.0 L411.37,530.0 L411.97,530.0 L412.56,530.0 L413.16,530.0 L413.76,530.1 L414.36,530.1 L414.96,530.1 L415.56,530.1 L416.15,530.1 L416.75,530.1 L417.35,530.1 L417.95,530.1 L418.55,530.1 L419.15,530.1 L419.74,530.1 L420.34,530.1 L420.94,530.1 L421.54,530.1 L422.14,530.1 L422.74,530.1 L423.33,530.1 L423.93,530.1 L424.53,530.1 L425.13,530.1 L425.73,530.1 L426.32,530.1 L426.92,530.1 L427.52,530.1 L428.12,530.1 L428.72,530.1 L429.32,530.1 L429.91,530.1 L430.51,530.1 L431.11,530.1 L431.71,530.1 L432.31,530.1 L432.91,530.1 L433.50,530.1 L434.10,530.1 L434.70,530.1 L435.30,530.1 L435.90,530.1 L436.50,530.1 L437.09,530.1 L437.69,530.1 L438.29,530.1 L438.89,530.1 L439.49,530.1 L440.09,530.1 L440.68,530.1 L441.28,530.1 L441.88,530.1 L442.48,530.1 L443.08,530.1 L443.68,530.1 L444.27,530.1 L444.87,530.1 L445.47,530.1 L446.07,530.1 L446.67,530.1 L447.26,530.1 L447.86,530.1 L448.46,530.1 L449.06,530.1 L449.66,530.1 L450.26,530.1 L450.85,530.1 L451.45,530.1 L452.05,530.1 L452.65,530.1 L453.25,530.1 L453.85,530.1 L454.44,530.1 L455.04,530.1 L455.64,530.1 L456.24,530.1 L456.84,530.1 L457.44,530.1 L458.03,530.1 L458.63,530.1 L459.23,530.1 L459.83,530.1 L460.43,530.1 L461.03,530.1 L461.62,530.1 L462.22,530.1 L462.82,530.1 L463.42,530.1 L464.02,530.1 L464.62,530.1 L465.21,530.1 L465.81,530.1 L466.41,530.1 L467.01,530.1 L467.61,530.1 L468.21,530.1 L468.80,530.1 L469.40,530.1 L470.00,530.1 L470.60,530.1 L471.20,530.1 L471.79,530.1 L472.39,530.1 L472.99,530.1 L473.59,530.1 L474.19,530.1 L474.79,530.1 L475.38,530.1 L475.98,530.1 L476.58,530.1 L477.18,530.1 L477.78,530.1 L478.38,530.1 L478.97,530.1 L479.57,530.1 L480.17,530.1 L480.77,530.1 L481.37,530.1 L481.97,530.1 L482.56,530.1 L483.16,530.1 L483.76,530.1 L484.36,530.1 L484.96,530.1 L485.56,530.1 L486.15,530.1 L486.75,530.1 L487.35,530.1 L487.95,530.1 L488.55,530.1 L489.15,530.1 L489.74,530.1 L490.34,530.1 L490.94,530.1 L491.54,530.1 L492.14,530.1 L492.74,530.1 L493.33,530.1 L493.93,530.1 L494.53,530.1 L495.13,530.1 L495.73,530.1 L496.32,530.1 L496.92,530.1 L497.52,530.1 L498.12,530.1 L498.72,530.1 L499.32,530.1 L499.91,530.1 L500.51,530.1 L501.11,530.1 L501.71,530.1 L502.31,530.1 L502.91,530.1 L503.50,530.1 L504.10,530.1 L504.70,530.1 L505.30,530.1 L505.90,530.1 L506.50,530.1 L507.09,530.1 L507.69,530.1 L508.29,530.1 L508.89,530.1 L509.49,530.1 L510.09,530.1 L510.68,530.1 L511.28,530.1 L511.88,530.1 L512.48,530.1 L513.08,530.1 L513.68,530.1 L514.27,530.1 L514.87,530.1 L515.47,530.1 L516.07,530.1 L516.67,530.1 L517.26,530.1 L517.86,530.1 L518.46,530.1 L519.06,530.1 L519.66,530.1 L520.26,530.1 L520.85,530.1 L521.45,530.1 L522.05,530.1 L522.65,530.1 L523.25,530.1 L523.85,530.1 L524.44,530.1 L525.04,530.1 L525.64,530.1 L526.24,530.1 L526.84,530.1 L527.44,530.1 L528.03,530.1 L528.63,530.1 L529.23,530.1 L529.83,530.1 L530.43,530.1 L531.03,530.1 L531.62,530.1 L532.22,530.1 L532.82,530.1 L533.42,530.1 L534.02,530.1 L534.62,530.1 L535.21,530.1 L535.81,530.1 L536.41,530.1 L537.01,530.1 L537.61,530.1 L538.21,530.1 L538.80,530.1 L539.40,530.1 L540.00,530.1 L540.60,530.1 L541.20,530.1 L541.79,530.1 L542.39,530.1 L542.99,530.1 L543.59,530.1 L544.19,530.1 L544.79,530.1 L545.38,530.1 L545.98,530.1 L546.58,530.1 L547.18,530.1 L547.78,530.1 L548.38,530.1 L548.97,530.1 L549.57,530.1 L550.17,530.1 L550.77,530.1 L551.37,530.1 L551.97,530.1 L552.56,530.1 L553.16,530.1 L553.76,530.1 L554.36,530.1 L554.96,530.1 L555.56,530.1 L556.15,530.1 L556.75,530.1 L557.35,530.1 L557.95,530.1 L558.55,530.1 L559.15,530.1 L559.74,530.1 L560.34,530.1 L560.94,530.1 L561.54,530.1 L562.14,530.1 L562.74,530.1 L563.33,530.1 L563.93,530.1 L564.53,530.1 L565.13,530.1 L565.73,530.1 L566.32,530.1 L566.92,530.1 L567.52,530.1 L568.12,530.1 L568.72,530.1 L569.32,530.1 L569.91,530.1 L570.51,530.1 L571.11,530.1 L571.71,530.1 L572.31,530.1 L572.91,530.1 L573.50,530.1 L574.10,530.1 L574.70,530.1 L575.30,530.1 L575.90,530.1 L576.50,530.1 L577.09,530.1 L577.69,530.1 L578.29,530.1 L578.89,530.1 L579.49,530.1 L580.09,530.1 L580.68,530.1 L581.28,530.1 L581.88,530.1 L582.48,530.1 L583.08,530.1 L583.68,530.1 L584.27,530.1 L584.87,530.1 L585.47,530.1 L586.07,530.1 L586.67,530.1 L587.26,530.1 L587.86,530.1 L588.46,530.1 L589.06,530.1 L589.66,530.1 L590.26,530.1 L590.85,530.1 L591.45,530.1 L592.05,530.1 L592.65,530.1 L593.25,530.1 L593.85,530.1 L594.44,530.1 L595.04,530.1 L595.64,530.1 L596.24,530.1 L596.84,530.1 L597.44,530.1 L598.03,530.1 L598.63,530.1 L599.23,530.1 L599.83,530.1 L600.43,530.1 L601.03,530.1 L601.62,530.1 L602.22,530.1 L602.82,530.1 L603.42,530.1 L604.02,530.1 L604.62,530.1 L605.21,530.1 L605.81,530.1 L606.41,530.1 L607.01,530.1 L607.61,530.1 L608.21,530.1 L608.80,530.1 L609.40,530.1 L610.00,530.1 L610.60,530.1 L611.20,530.1 L611.79,530.1 L612.39,530.1 L612.99,530.1 L613.59,530.1 L614.19,530.1 L614.79,530.1 L615.38,530.1 L615.98,530.1 L616.58,530.1 L617.18,530.1 L617.78,530.1 L618.38,530.1 L618.97,530.1 L619.57,530.1 L620.17,530.1 L620.77,530.1 L621.37,530.1 L621.97,530.1 L622.56,530.1 L623.16,530.1 L623.76,530.1 L624.36,530.1 L624.96,530.1 L625.56,530.1 L626.15,530.1 L626.75,530.1 L627.35,530.1 L627.95,530.1 L628.55,530.1 L629.15,530.1 L629.74,530.1 L630.34,530.1 L630.94,530.1 L631.54,530.1 L632.14,530.1 L632.74,530.1 L633.33,530.1 L633.93,530.1 L634.53,530.1 L635.13,530.1 L635.73,530.1 L636.32,530.1 L636.92,530.1 L637.52,530.1 L638.12,530.1 L638.72,530.1 L639.32,530.1 L639.91,530.1 L640.51,530.1 L641.11,530.1 L641.71,530.1 L642.31,530.1 L642.91,530.1 L643.50,530.1 L644.10,530.1 L644.70,530.1 L645.30,530.1 L645.90,530.1 L646.50,530.1 L647.09,530.1 L647.69,530.1 L648.29,530.1 L648.89,530.1 L649.49,530.1 L650.09,530.1 L650.68,530.1 L651.28,530.1 L651.88,530.1 L652.48,530.1 L653.08,530.1 L653.68,530.1 L654.27,530.1 L654.87,530.1 L655.47,530.1 L656.07,530.1 L656.67,530.1 L657.26,530.1 L657.86,530.1 L658.46,530.1 L659.06,530.1 L659.66,530.1 L660.26,530.1 L660.85,530.1 L661.45,530.1 L662.05,530.1 L662.65,530.1 L663.25,530.1 L663.85,530.1 L664.44,530.1 L665.04,530.1 L665.64,530.1 L666.24,530.1 L666.84,530.1 L667.44,530.1 L668.03,530.1 L668.63,530.1 L669.23,530.1 L669.83,530.1 L670.43,530.1 L671.03,530.1 L671.62,530.1 L672.22,530.1 L672.82,530.1 L673.42,530.1 L674.02,530.1 L674.62,530.1 L675.21,530.1 L675.81,530.1 L676.41,530.1 L677.01,530.1 L677.61,530.1 L678.21,530.1 L678.80,530.1 L679.40,530.1 L680.00,530.1 L680.60,530.1 L681.20,530.1 L681.79,530.1 L682.39,530.1 L682.99,530.1 L683.59,530.1 L684.19,530.1 L684.79,530.1 L685.38,530.1 L685.98,530.1 L686.58,530.1 L687.18,530.1 L687.78,530.1 L688.38,530.1 L688.97,530.1 L689.57,530.1 L690.17,530.1 L690.77,530.1 L691.37,530.1 L691.97,530.1 L692.56,530.1 L693.16,530.1 L693.76,530.1 L694.36,530.1 L694.96,530.1 L695.56,530.1 L696.15,530.1 L696.75,530.1 L697.35,530.1 L697.95,530.1 L698.55,530.1 L699.15,530.1 L699.74,530.1 L700.34,530.1 L700.94,530.1 L701.54,530.1 L702.14,530.1 L702.74,530.1 L703.33,530.1 L703.93,530.1 L704.53,530.1 L705.13,530.1 L705.73,530.1 L706.32,530.1 L706.92,530.1 L707.52,530.1 L708.12,530.1 L708.72,530.1 L709.32,530.1 L709.91,530.1 L710.51,530.1 L711.11,530.1 L711.71,530.1 L712.31,530.1 L712.91,530.1 L713.50,530.1 L714.10,530.1 L714.70,530.1 L715.30,530.1 L715.90,530.1 L716.50,530.1 L717.09,530.1 L717.69,530.1 L718.29,530.1 L718.89,530.1 L719.49,530.1 L720.09,530.1 L720.68,530.1 L721.28,530.1 L721.88,530.1 L722.48,530.1 L723.08,530.1 L723.68,530.1 L724.27,530.1 L724.87,530.1 L725.47,530.1 L726.07,530.1 L726.67,530.1 L727.26,530.1 L727.86,530.1 L728.46,530.1 L729.06,530.1 L729.66,530.1 L730.26,530.0 L730.85,530.0 L731.45,530.0 L732.05,530.0 L732.65,530.0 L733.25,529.9 L733.85,529.9 L734.44,529.9 L735.04,529.9 L735.64,529.8 L736.24,529.8 L736.84,529.8 L737.44,529.8 L738.03,529.7 L738.63,529.7 L739.23,529.7 L739.83,529.6 L740.43,529.6 L741.03,529.6 L741.62,529.5 L742.22,529.5 L742.82,529.5 L743.42,529.4 L744.02,529.4 L744.62,529.4 L745.21,529.3 L745.81,529.3 L746.41,529.2 L747.01,529.2 L747.61,529.1 L748.21,529.1 L748.80,529.0 L749.40,528.9 L750.00,528.9 L750.60,528.8 L751.20,528.7 L751.79,528.7 L752.39,528.6 L752.99,528.5 L753.59,528.4 L754.19,528.3 L754.79,528.3 L755.38,528.2 L755.98,528.0 L756.58,527.9 L757.18,527.8 L757.78,527.7 L758.38,527.6 L758.97,527.4 L759.57,527.3 L760.17,527.1 L760.77,527.0 L761.37,526.8 L761.97,526.6 L762.56,526.4 L763.16,526.2 L763.76,526.0 L764.36,525.8 L764.96,525.5 L765.56,525.2 L766.15,525.0 L766.75,524.6 L767.35,524.3 L767.95,523.9 L768.55,523.6 L769.15,523.1 L769.74,522.7 L770.34,522.2 L770.94,521.7 L771.54,521.1 L772.14,520.5 L772.74,519.9 L773.33,519.2 L773.93,518.4 L774.53,517.6 L775.13,516.8 L775.73,515.8 L776.32,514.8 L776.92,513.8 L777.52,512.7 L778.12,511.5 L778.72,510.3 L779.32,509.1 L779.91,507.8 L780.51,506.6 L781.11,505.4 L781.71,504.2 L782.31,503.2 L782.91,502.2 L783.50,501.5 L784.10,500.9 L784.70,500.6 L785.30,500.5 L785.90,500.7 L786.50,501.1 L787.09,501.7 L787.69,502.5 L788.29,503.4 L788.89,504.5 L789.49,505.7 L790.09,506.9 L790.68,508.2 L791.28,509.4 L791.88,510.7 L792.48,511.9 L793.08,513.0 L793.68,514.1 L794.27,515.1 L794.87,516.1 L795.47,517.0 L796.07,517.9 L796.67,518.7 L797.26,519.4 L797.86,520.1 L798.46,520.7 L799.06,521.3 L799.66,521.9 L800.26,522.4 L800.85,522.8 L801.45,523.3 L802.05,523.7 L802.65,524.1 L803.25,524.4"/>
<path stroke="#6f5593" stroke-width="4.3" d="M127.78,529.6 L128.38,529.6 L128.97,529.6 L129.57,529.5 L130.17,529.5 L130.77,529.5 L131.37,529.5 L131.97,529.5 L132.56,529.5 L133.16,529.5 L133.76,529.5 L134.36,529.5 L134.96,529.4 L135.56,529.4 L136.15,529.4 L136.75,529.4 L137.35,529.4 L137.95,529.4 L138.55,529.4 L139.15,529.4 L139.74,529.4 L140.34,529.3 L140.94,529.3 L141.54,529.3 L142.14,529.3 L142.74,529.3 L143.33,529.3 L143.93,529.3 L144.53,529.3 L145.13,529.2 L145.73,529.2 L146.32,529.2 L146.92,529.2 L147.52,529.2 L148.12,529.2 L148.72,529.2 L149.32,529.1 L149.91,529.1 L150.51,529.1 L151.11,529.1 L151.71,529.1 L152.31,529.1 L152.91,529.0 L153.50,529.0 L154.10,529.0 L154.70,529.0 L155.30,529.0 L155.90,529.0 L156.50,528.9 L157.09,528.9 L157.69,528.9 L158.29,528.9 L158.89,528.9 L159.49,528.9 L160.09,528.8 L160.68,528.8 L161.28,528.8 L161.88,528.8 L162.48,528.8 L163.08,528.7 L163.68,528.7 L164.27,528.7 L164.87,528.7 L165.47,528.7 L166.07,528.6 L166.67,528.6 L167.26,528.6 L167.86,528.6 L168.46,528.5 L169.06,528.5 L169.66,528.5 L170.26,528.5 L170.85,528.4 L171.45,528.4 L172.05,528.4 L172.65,528.4 L173.25,528.3 L173.85,528.3 L174.44,528.3 L175.04,528.3 L175.64,528.2 L176.24,528.2 L176.84,528.2 L177.44,528.2 L178.03,528.1 L178.63,528.1 L179.23,528.1 L179.83,528.0 L180.43,528.0 L181.03,528.0 L181.62,527.9 L182.22,527.9 L182.82,527.9 L183.42,527.8 L184.02,527.8 L184.62,527.8 L185.21,527.7 L185.81,527.7 L186.41,527.7 L187.01,527.6 L187.61,527.6 L188.21,527.5 L188.80,527.5 L189.40,527.5 L190.00,527.4 L190.60,527.4 L191.20,527.3 L191.79,527.3 L192.39,527.3 L192.99,527.2 L193.59,527.2 L194.19,527.1 L194.79,527.1 L195.38,527.0 L195.98,527.0 L196.58,526.9 L197.18,526.9 L197.78,526.8 L198.38,526.8 L198.97,526.7 L199.57,526.7 L200.17,526.6 L200.77,526.5 L201.37,526.5 L201.97,526.4 L202.56,526.4 L203.16,526.3 L203.76,526.2 L204.36,526.2 L204.96,526.1 L205.56,526.0 L206.15,526.0 L206.75,525.9 L207.35,525.8 L207.95,525.8 L208.55,525.7 L209.15,525.6 L209.74,525.5 L210.34,525.5 L210.94,525.4 L211.54,525.3 L212.14,525.2 L212.74,525.1 L213.33,525.0 L213.93,524.9 L214.53,524.8 L215.13,524.7 L215.73,524.6 L216.32,524.5 L216.92,524.4 L217.52,524.3 L218.12,524.2 L218.72,524.1 L219.32,524.0 L219.91,523.9 L220.51,523.8 L221.11,523.7 L221.71,523.5 L222.31,523.4 L222.91,523.3 L223.50,523.1 L224.10,523.0 L224.70,522.8 L225.30,522.7 L225.90,522.6 L226.50,522.4 L227.09,522.2 L227.69,522.1 L228.29,521.9 L228.89,521.7 L229.49,521.6 L230.09,521.4 L230.68,521.2 L231.28,521.0 L231.88,520.8 L232.48,520.6 L233.08,520.4 L233.68,520.2 L234.27,519.9 L234.87,519.7 L235.47,519.5 L236.07,519.2 L236.67,519.0 L237.26,518.7 L237.86,518.4 L238.46,518.1 L239.06,517.8 L239.66,517.5 L240.26,517.2 L240.85,516.9 L241.45,516.6 L242.05,516.2 L242.65,515.9 L243.25,515.5 L243.85,515.1 L244.44,514.7 L245.04,514.3 L245.64,513.9 L246.24,513.4 L246.84,513.0 L247.44,512.5 L248.03,512.0 L248.63,511.5 L249.23,510.9 L249.83,510.4 L250.43,509.8 L251.03,509.1 L251.62,508.5 L252.22,507.8 L252.82,507.1 L253.42,506.4 L254.02,505.6 L254.62,504.8 L255.21,504.0 L255.81,503.1 L256.41,502.2 L257.01,501.2 L257.61,500.2 L258.21,499.2 L258.80,498.0 L259.40,496.9 L260.00,495.6 L260.60,494.3 L261.20,493.0 L261.79,491.5 L262.39,490.0 L262.99,488.4 L263.59,486.6 L264.19,484.8 L264.79,482.9 L265.38,480.9 L265.98,478.7 L266.58,476.5 L267.18,474.0 L267.78,471.4 L268.38,468.7 L268.97,465.7 L269.57,462.6 L270.17,459.3 L270.77,455.7 L271.37,451.9 L271.97,447.8 L272.56,443.5 L273.16,438.8 L273.76,433.8 L274.36,428.4 L274.96,422.6 L275.56,416.5 L276.15,409.8 L276.75,402.7 L277.35,395.1 L277.95,387.0 L278.55,378.3 L279.15,369.0 L279.74,359.1 L280.34,348.6 L280.94,337.5 L281.54,325.8 L282.14,313.6 L282.74,301.0 L283.33,288.0 L283.93,274.8 L284.53,261.6 L285.13,248.5 L285.73,236.0 L286.32,224.2 L286.92,213.5 L287.52,204.2 L288.12,196.7 L288.72,191.2 L289.32,188.0 L289.91,187.1 L290.51,188.7 L291.11,192.6 L291.71,198.7 L292.31,206.8 L292.91,216.5 L293.50,227.6 L294.10,239.7 L294.70,252.4 L295.30,265.6 L295.90,278.9 L296.50,292.1 L297.09,305.1 L297.69,317.7 L298.29,329.9 L298.89,341.4 L299.49,352.4 L300.09,362.8 L300.68,372.6 L301.28,381.8 L301.88,390.4 L302.48,398.4 L303.08,406.0 L303.68,413.0 L304.27,419.5 L304.87,425.6 L305.47,431.3 L306.07,436.6 L306.67,441.6 L307.26,446.2 L307.86,450.5 L308.46,454.5 L309.06,458.3 L309.66,461.8 L310.26,465.1 L310.85,468.2 L311.45,471.1 L312.05,473.8 L312.65,476.4 L313.25,478.8 L313.85,481.1 L314.44,483.2 L315.04,485.2 L315.64,487.1 L316.24,488.9 L316.84,490.6 L317.44,492.2 L318.03,493.7 L318.63,495.1 L319.23,496.5 L319.83,497.8 L320.43,499.0 L321.03,500.2 L321.62,501.3 L322.22,502.3 L322.82,503.3 L323.42,504.3 L324.02,505.2 L324.62,506.1 L325.21,506.9 L325.81,507.7 L326.41,508.5 L327.01,509.2 L327.61,509.9 L328.21,510.6 L328.80,511.2 L329.40,511.8 L330.00,512.4 L330.60,513.0 L331.20,513.5 L331.79,514.0 L332.39,514.5 L332.99,515.0 L333.59,515.5 L334.19,515.9 L334.79,516.3 L335.38,516.7 L335.98,517.1 L336.58,517.5 L337.18,517.9 L337.78,518.2 L338.38,518.6 L338.97,518.9 L339.57,519.2 L340.17,519.6 L340.77,519.9 L341.37,520.1 L341.97,520.4 L342.56,520.7 L343.16,521.0 L343.76,521.2 L344.36,521.5 L344.96,521.7 L345.56,521.9 L346.15,522.2 L346.75,522.4 L347.35,522.6 L347.95,522.8 L348.55,523.0 L349.15,523.2 L349.74,523.4 L350.34,523.6 L350.94,523.7 L351.54,523.9 L352.14,524.1 L352.74,524.2 L353.33,524.4 L353.93,524.5 L354.53,524.7 L355.13,524.8 L355.73,525.0 L356.32,525.1 L356.92,525.3 L357.52,525.4 L358.12,525.5 L358.72,525.6 L359.32,525.8 L359.91,525.9 L360.51,526.0 L361.11,526.1 L361.71,526.2 L362.31,526.3 L362.91,526.4 L363.50,526.5 L364.10,526.6 L364.70,526.7 L365.30,526.8 L365.90,526.9 L366.50,527.0 L367.09,527.1 L367.69,527.2 L368.29,527.3 L368.89,527.4 L369.49,527.4 L370.09,527.5 L370.68,527.6 L371.28,527.7 L371.88,527.8 L372.48,527.8 L373.08,527.9 L373.68,528.0 L374.27,528.0 L374.87,528.1 L375.47,528.2 L376.07,528.2 L376.67,528.3 L377.26,528.4 L377.86,528.4 L378.46,528.5 L379.06,528.5 L379.66,528.6 L380.26,528.7 L380.85,528.7 L381.45,528.8 L382.05,528.8 L382.65,528.9 L383.25,528.9 L383.85,529.0 L384.44,529.0 L385.04,529.1 L385.64,529.1 L386.24,529.2 L386.84,529.2 L387.44,529.2 L388.03,529.3 L388.63,529.3 L389.23,529.4 L389.83,529.4 L390.43,529.5 L391.03,529.5 L391.62,529.5 L392.22,529.6 L392.82,529.6 L393.42,529.7 L394.02,529.7 L394.62,529.7 L395.21,529.8 L395.81,529.8 L396.41,529.8 L397.01,529.9 L397.61,529.9 L398.21,529.9 L398.80,530.0 L399.40,530.0 L400.00,530.0 L400.60,530.1 L401.20,530.1 L401.79,530.1 L402.39,530.1 L402.99,530.1 L403.59,530.1 L404.19,530.1 L404.79,530.1 L405.38,530.1 L405.98,530.1 L406.58,530.1 L407.18,530.1 L407.78,530.1 L408.38,530.1 L408.97,530.1 L409.57,530.1 L410.17,530.1 L410.77,530.1 L411.37,530.1 L411.97,530.1 L412.56,530.1 L413.16,530.1 L413.76,530.1 L414.36,530.1 L414.96,530.1 L415.56,530.1 L416.15,530.1 L416.75,530.1 L417.35,530.1 L417.95,530.1 L418.55,530.1 L419.15,530.1 L419.74,530.1 L420.34,530.1 L420.94,530.1 L421.54,530.1 L422.14,530.1 L422.74,530.1 L423.33,530.1 L423.93,530.1 L424.53,530.1 L425.13,530.1 L425.73,530.1 L426.32,530.1 L426.92,530.1 L427.52,530.1 L428.12,530.1 L428.72,530.1 L429.32,530.1 L429.91,530.1 L430.51,530.1 L431.11,530.1 L431.71,530.1 L432.31,530.1 L432.91,530.1 L433.50,530.1 L434.10,530.1 L434.70,530.1 L435.30,530.1 L435.90,530.1 L436.50,530.1 L437.09,530.1 L437.69,530.1 L438.29,530.1 L438.89,530.1 L439.49,530.1 L440.09,530.1 L440.68,530.1 L441.28,530.1 L441.88,530.1 L442.48,530.1 L443.08,530.1 L443.68,530.1 L444.27,530.1 L444.87,530.1 L445.47,530.1 L446.07,530.1 L446.67,530.1 L447.26,530.1 L447.86,530.1 L448.46,530.1 L449.06,530.1 L449.66,530.1 L450.26,530.1 L450.85,530.1 L451.45,530.1 L452.05,530.1 L452.65,530.1 L453.25,530.1 L453.85,530.1 L454.44,530.1 L455.04,530.1 L455.64,530.1 L456.24,530.1 L456.84,530.1 L457.44,530.1 L458.03,530.1 L458.63,530.1 L459.23,530.1 L459.83,530.1 L460.43,530.1 L461.03,530.1 L461.62,530.1 L462.22,530.1 L462.82,530.1 L463.42,530.1 L464.02,530.1 L464.62,530.1 L465.21,530.1 L465.81,530.1 L466.41,530.1 L467.01,530.1 L467.61,530.1 L468.21,530.1 L468.80,530.1 L469.40,530.1 L470.00,530.1 L470.60,530.1 L471.20,530.1 L471.79,530.1 L472.39,530.1 L472.99,530.1 L473.59,530.1 L474.19,530.1 L474.79,530.1 L475.38,530.1 L475.98,530.1 L476.58,530.1 L477.18,530.1 L477.78,530.1 L478.38,530.1 L478.97,530.1 L479.57,530.1 L480.17,530.1 L480.77,530.1 L481.37,530.1 L481.97,530.1 L482.56,530.1 L483.16,530.1 L483.76,530.1 L484.36,530.1 L484.96,530.1 L485.56,530.1 L486.15,530.1 L486.75,530.1 L487.35,530.1 L487.95,530.1 L488.55,530.1 L489.15,530.1 L489.74,530.1 L490.34,530.1 L490.94,530.1 L491.54,530.1 L492.14,530.1 L492.74,530.1 L493.33,530.1 L493.93,530.1 L494.53,530.1 L495.13,530.1 L495.73,530.1 L496.32,530.1 L496.92,530.1 L497.52,530.1 L498.12,530.1 L498.72,530.1 L499.32,530.1 L499.91,530.1 L500.51,530.1 L501.11,530.1 L501.71,530.1 L502.31,530.1 L502.91,530.1 L503.50,530.1 L504.10,530.1 L504.70,530.1 L505.30,530.1 L505.90,530.1 L506.50,530.1 L507.09,530.1 L507.69,530.1 L508.29,530.1 L508.89,530.1 L509.49,530.1 L510.09,530.1 L510.68,530.1 L511.28,530.1 L511.88,530.1 L512.48,530.1 L513.08,530.1 L513.68,530.1 L514.27,530.1 L514.87,530.1 L515.47,530.1 L516.07,530.1 L516.67,530.1 L517.26,530.1 L517.86,530.1 L518.46,530.1 L519.06,530.1 L519.66,530.1 L520.26,530.1 L520.85,530.1 L521.45,530.1 L522.05,530.1 L522.65,530.1 L523.25,530.1 L523.85,530.1 L524.44,530.1 L525.04,530.1 L525.64,530.1 L526.24,530.1 L526.84,530.1 L527.44,530.1 L528.03,530.1 L528.63,530.1 L529.23,530.1 L529.83,530.1 L530.43,530.1 L531.03,530.1 L531.62,530.1 L532.22,530.1 L532.82,530.1 L533.42,530.1 L534.02,530.1 L534.62,530.1 L535.21,530.1 L535.81,530.1 L536.41,530.1 L537.01,530.1 L537.61,530.1 L538.21,530.1 L538.80,530.1 L539.40,530.1 L540.00,530.1 L540.60,530.1 L541.20,530.1 L541.79,530.1 L542.39,530.1 L542.99,530.1 L543.59,530.1 L544.19,530.1 L544.79,530.1 L545.38,530.1 L545.98,530.1 L546.58,530.1 L547.18,530.1 L547.78,530.1 L548.38,530.1 L548.97,530.1 L549.57,530.1 L550.17,530.1 L550.77,530.1 L551.37,530.1 L551.97,530.1 L552.56,530.1 L553.16,530.1 L553.76,530.1 L554.36,530.1 L554.96,530.1 L555.56,530.1 L556.15,530.1 L556.75,530.1 L557.35,530.1 L557.95,530.1 L558.55,530.1 L559.15,530.1 L559.74,530.1 L560.34,530.1 L560.94,530.1 L561.54,530.1 L562.14,530.1 L562.74,530.1 L563.33,530.1 L563.93,530.1 L564.53,530.1 L565.13,530.1 L565.73,530.1 L566.32,530.1 L566.92,530.1 L567.52,530.1 L568.12,530.1 L568.72,530.1 L569.32,530.1 L569.91,530.1 L570.51,530.1 L571.11,530.1 L571.71,530.1 L572.31,530.1 L572.91,530.1 L573.50,530.1 L574.10,530.1 L574.70,530.1 L575.30,530.1 L575.90,530.1 L576.50,530.1 L577.09,530.1 L577.69,530.1 L578.29,530.1 L578.89,530.1 L579.49,530.1 L580.09,530.1 L580.68,530.1 L581.28,530.1 L581.88,530.1 L582.48,530.1 L583.08,530.1 L583.68,530.1 L584.27,530.1 L584.87,530.1 L585.47,530.1 L586.07,530.1 L586.67,530.1 L587.26,530.1 L587.86,530.1 L588.46,530.1 L589.06,530.1 L589.66,530.1 L590.26,530.1 L590.85,530.1 L591.45,530.1 L592.05,530.1 L592.65,530.1 L593.25,530.1 L593.85,530.1 L594.44,530.1 L595.04,530.1 L595.64,530.1 L596.24,530.1 L596.84,530.1 L597.44,530.1 L598.03,530.1 L598.63,530.1 L599.23,530.1 L599.83,530.1 L600.43,530.1 L601.03,530.1 L601.62,530.1 L602.22,530.1 L602.82,530.1 L603.42,530.1 L604.02,530.1 L604.62,530.1 L605.21,530.1 L605.81,530.1 L606.41,530.1 L607.01,530.1 L607.61,530.1 L608.21,530.1 L608.80,530.1 L609.40,530.1 L610.00,530.1 L610.60,530.1 L611.20,530.1 L611.79,530.1 L612.39,530.1 L612.99,530.1 L613.59,530.1 L614.19,530.1 L614.79,530.1 L615.38,530.1 L615.98,530.1 L616.58,530.1 L617.18,530.1 L617.78,530.1 L618.38,530.1 L618.97,530.1 L619.57,530.1 L620.17,530.1 L620.77,530.1 L621.37,530.1 L621.97,530.1 L622.56,530.1 L623.16,530.1 L623.76,530.1 L624.36,530.1 L624.96,530.1 L625.56,530.1 L626.15,530.1 L626.75,530.1 L627.35,530.1 L627.95,530.1 L628.55,530.1 L629.15,530.1 L629.74,530.1 L630.34,530.1 L630.94,530.1 L631.54,530.1 L632.14,530.1 L632.74,530.1 L633.33,530.1 L633.93,530.1 L634.53,530.1 L635.13,530.1 L635.73,530.1 L636.32,530.1 L636.92,530.1 L637.52,530.1 L638.12,530.1 L638.72,530.1 L639.32,530.1 L639.91,530.1 L640.51,530.1 L641.11,530.1 L641.71,530.1 L642.31,530.1 L642.91,530.1 L643.50,530.1 L644.10,530.1 L644.70,530.1 L645.30,530.1 L645.90,530.1 L646.50,530.1 L647.09,530.1 L647.69,530.1 L648.29,530.1 L648.89,530.1 L649.49,530.1 L650.09,530.1 L650.68,530.1 L651.28,530.1 L651.88,530.1 L652.48,530.1 L653.08,530.1 L653.68,530.1 L654.27,530.1 L654.87,530.1 L655.47,530.1 L656.07,530.1 L656.67,530.1 L657.26,530.1 L657.86,530.1 L658.46,530.1 L659.06,530.1 L659.66,530.1 L660.26,530.1 L660.85,530.1 L661.45,530.1 L662.05,530.1 L662.65,530.1 L663.25,530.1 L663.85,530.1 L664.44,530.1 L665.04,530.1 L665.64,530.1 L666.24,530.1 L666.84,530.1 L667.44,530.1 L668.03,530.1 L668.63,530.1 L669.23,530.1 L669.83,530.1 L670.43,530.1 L671.03,530.1 L671.62,530.1 L672.22,530.1 L672.82,530.1 L673.42,530.1 L674.02,530.1 L674.62,530.1 L675.21,530.1 L675.81,530.1 L676.41,530.1 L677.01,530.1 L677.61,530.1 L678.21,530.1 L678.80,530.1 L679.40,530.1 L680.00,530.1 L680.60,530.1 L681.20,530.1 L681.79,530.1 L682.39,530.1 L682.99,530.1 L683.59,530.1 L684.19,530.1 L684.79,530.1 L685.38,530.1 L685.98,530.1 L686.58,530.1 L687.18,530.1 L687.78,530.1 L688.38,530.1 L688.97,530.1 L689.57,530.1 L690.17,530.1 L690.77,530.1 L691.37,530.1 L691.97,530.1 L692.56,530.1 L693.16,530.1 L693.76,530.1 L694.36,530.1 L694.96,530.1 L695.56,530.1 L696.15,530.1 L696.75,530.1 L697.35,530.1 L697.95,530.1 L698.55,530.1 L699.15,530.1 L699.74,530.1 L700.34,530.1 L700.94,530.1 L701.54,530.1 L702.14,530.1 L702.74,530.1 L703.33,530.1 L703.93,530.1 L704.53,530.1 L705.13,530.1 L705.73,530.1 L706.32,530.1 L706.92,530.1 L707.52,530.1 L708.12,530.1 L708.72,530.1 L709.32,530.1 L709.91,530.1 L710.51,530.1 L711.11,530.1 L711.71,530.1 L712.31,530.1 L712.91,530.1 L713.50,530.1 L714.10,530.1 L714.70,530.1 L715.30,530.1 L715.90,530.1 L716.50,530.1 L717.09,530.1 L717.69,530.1 L718.29,530.1 L718.89,530.1 L719.49,530.1 L720.09,530.1 L720.68,530.1 L721.28,530.1 L721.88,530.1 L722.48,530.1 L723.08,530.1 L723.68,530.1 L724.27,530.0 L724.87,530.0 L725.47,530.0 L726.07,530.0 L726.67,530.0 L727.26,530.0 L727.86,529.9 L728.46,529.9 L729.06,529.9 L729.66,529.9 L730.26,529.8 L730.85,529.8 L731.45,529.8 L732.05,529.8 L732.65,529.7 L733.25,529.7 L733.85,529.7 L734.44,529.6 L735.04,529.6 L735.64,529.6 L736.24,529.5 L736.84,529.5 L737.44,529.5 L738.03,529.4 L738.63,529.4 L739.23,529.3 L739.83,529.3 L740.43,529.2 L741.03,529.2 L741.62,529.1 L742.22,529.1 L742.82,529.0 L743.42,529.0 L744.02,528.9 L744.62,528.9 L745.21,528.8 L745.81,528.7 L746.41,528.6 L747.01,528.6 L747.61,528.5 L748.21,528.4 L748.80,528.3 L749.40,528.2 L750.00,528.1 L750.60,528.0 L751.20,527.9 L751.79,527.8 L752.39,527.7 L752.99,527.5 L753.59,527.4 L754.19,527.3 L754.79,527.1 L755.38,526.9 L755.98,526.8 L756.58,526.6 L757.18,526.4 L757.78,526.2 L758.38,525.9 L758.97,525.7 L759.57,525.4 L760.17,525.2 L760.77,524.9 L761.37,524.5 L761.97,524.2 L762.56,523.8 L763.16,523.4 L763.76,523.0 L764.36,522.6 L764.96,522.1 L765.56,521.5 L766.15,521.0 L766.75,520.4 L767.35,519.7 L767.95,519.0 L768.55,518.2 L769.15,517.4 L769.74,516.5 L770.34,515.6 L770.94,514.6 L771.54,513.5 L772.14,512.4 L772.74,511.2 L773.33,510.0 L773.93,508.7 L774.53,507.5 L775.13,506.2 L775.73,505.0 L776.32,503.9 L776.92,502.9 L777.52,502.0 L778.12,501.3 L778.72,500.8 L779.32,500.5 L779.91,500.5 L780.51,500.7 L781.11,501.2 L781.71,501.9 L782.31,502.7 L782.91,503.7 L783.50,504.9 L784.10,506.1 L784.70,507.3 L785.30,508.5 L785.90,509.8 L786.50,511.0 L787.09,512.2 L787.69,513.3 L788.29,514.4 L788.89,515.4 L789.49,516.4 L790.09,517.3 L790.68,518.1 L791.28,518.9 L791.88,519.6 L792.48,520.3 L793.08,520.9 L793.68,521.5 L794.27,522.0 L794.87,522.5 L795.47,523.0 L796.07,523.4 L796.67,523.8 L797.26,524.2 L797.86,524.5 L798.46,524.8 L799.06,525.1 L799.66,525.4 L800.26,525.7 L800.85,525.9 L801.45,526.1 L802.05,526.3 L802.65,526.5 L803.25,526.7"/>
<path stroke="#3b99b5" stroke-width="4.4" d="M127.78,529.8 L128.38,529.8 L128.97,529.8 L129.57,529.7 L130.17,529.7 L130.77,529.7 L131.37,529.7 L131.97,529.7 L132.56,529.7 L133.16,529.7 L133.76,529.7 L134.36,529.7 L134.96,529.7 L135.56,529.6 L136.15,529.6 L136.75,529.6 L137.35,529.6 L137.95,529.6 L138.55,529.6 L139.15,529.6 L139.74,529.6 L140.34,529.6 L140.94,529.6 L141.54,529.5 L142.14,529.5 L142.74,529.5 L143.33,529.5 L143.93,529.5 L144.53,529.5 L145.13,529.5 L145.73,529.5 L146.32,529.4 L146.92,529.4 L147.52,529.4 L148.12,529.4 L148.72,529.4 L149.32,529.4 L149.91,529.4 L150.51,529.4 L151.11,529.3 L151.71,529.3 L152.31,529.3 L152.91,529.3 L153.50,529.3 L154.10,529.3 L154.70,529.2 L155.30,529.2 L155.90,529.2 L156.50,529.2 L157.09,529.2 L157.69,529.2 L158.29,529.2 L158.89,529.1 L159.49,529.1 L160.09,529.1 L160.68,529.1 L161.28,529.1 L161.88,529.1 L162.48,529.0 L163.08,529.0 L163.68,529.0 L164.27,529.0 L164.87,529.0 L165.47,528.9 L166.07,528.9 L166.67,528.9 L167.26,528.9 L167.86,528.9 L168.46,528.8 L169.06,528.8 L169.66,528.8 L170.26,528.8 L170.85,528.7 L171.45,528.7 L172.05,528.7 L172.65,528.7 L173.25,528.7 L173.85,528.6 L174.44,528.6 L175.04,528.6 L175.64,528.6 L176.24,528.5 L176.84,528.5 L177.44,528.5 L178.03,528.4 L178.63,528.4 L179.23,528.4 L179.83,528.4 L180.43,528.3 L181.03,528.3 L181.62,528.3 L182.22,528.2 L182.82,528.2 L183.42,528.2 L184.02,528.1 L184.62,528.1 L185.21,528.1 L185.81,528.0 L186.41,528.0 L187.01,528.0 L187.61,527.9 L188.21,527.9 L188.80,527.9 L189.40,527.8 L190.00,527.8 L190.60,527.7 L191.20,527.7 L191.79,527.7 L192.39,527.6 L192.99,527.6 L193.59,527.5 L194.19,527.5 L194.79,527.4 L195.38,527.4 L195.98,527.3 L196.58,527.3 L197.18,527.2 L197.78,527.2 L198.38,527.1 L198.97,527.1 L199.57,527.0 L200.17,527.0 L200.77,526.9 L201.37,526.9 L201.97,526.8 L202.56,526.8 L203.16,526.7 L203.76,526.6 L204.36,526.6 L204.96,526.5 L205.56,526.4 L206.15,526.4 L206.75,526.3 L207.35,526.2 L207.95,526.2 L208.55,526.1 L209.15,526.0 L209.74,525.9 L210.34,525.8 L210.94,525.8 L211.54,525.7 L212.14,525.6 L212.74,525.5 L213.33,525.4 L213.93,525.3 L214.53,525.2 L215.13,525.1 L215.73,525.0 L216.32,524.9 L216.92,524.8 L217.52,524.7 L218.12,524.6 L218.72,524.5 L219.32,524.4 L219.91,524.2 L220.51,524.1 L221.11,524.0 L221.71,523.8 L222.31,523.7 L222.91,523.6 L223.50,523.4 L224.10,523.3 L224.70,523.1 L225.30,523.0 L225.90,522.8 L226.50,522.6 L227.09,522.5 L227.69,522.3 L228.29,522.1 L228.89,521.9 L229.49,521.7 L230.09,521.5 L230.68,521.3 L231.28,521.1 L231.88,520.9 L232.48,520.7 L233.08,520.4 L233.68,520.2 L234.27,519.9 L234.87,519.7 L235.47,519.4 L236.07,519.1 L236.67,518.8 L237.26,518.5 L237.86,518.2 L238.46,517.9 L239.06,517.5 L239.66,517.2 L240.26,516.8 L240.85,516.4 L241.45,516.0 L242.05,515.6 L242.65,515.2 L243.25,514.7 L243.85,514.2 L244.44,513.7 L245.04,513.2 L245.64,512.7 L246.24,512.1 L246.84,511.6 L247.44,510.9 L248.03,510.3 L248.63,509.6 L249.23,508.9 L249.83,508.2 L250.43,507.4 L251.03,506.6 L251.62,505.7 L252.22,504.8 L252.82,503.9 L253.42,502.8 L254.02,501.8 L254.62,500.7 L255.21,499.5 L255.81,498.2 L256.41,496.9 L257.01,495.5 L257.61,494.0 L258.21,492.4 L258.80,490.7 L259.40,488.9 L260.00,486.9 L260.60,484.9 L261.20,482.7 L261.79,480.3 L262.39,477.8 L262.99,475.1 L263.59,472.2 L264.19,469.1 L264.79,465.7 L265.38,462.1 L265.98,458.1 L266.58,453.9 L267.18,449.3 L267.78,444.3 L268.38,438.9 L268.97,433.0 L269.57,426.6 L270.17,419.6 L270.77,412.0 L271.37,403.6 L271.97,394.5 L272.56,384.6 L273.16,373.7 L273.76,361.8 L274.36,348.9 L274.96,334.8 L275.56,319.5 L276.15,303.0 L276.75,285.2 L277.35,266.3 L277.95,246.4 L278.55,225.6 L279.15,204.3 L279.74,183.0 L280.34,162.3 L280.94,143.0 L281.54,125.8 L282.14,111.6 L282.74,101.3 L283.33,95.4 L283.93,94.3 L284.53,98.2 L285.13,106.7 L285.73,119.3 L286.32,135.3 L286.92,153.9 L287.52,174.1 L288.12,195.3 L288.72,216.7 L289.32,237.8 L289.91,258.2 L290.51,277.6 L291.11,295.9 L291.71,313.0 L292.31,328.9 L292.91,343.5 L293.50,357.0 L294.10,369.4 L294.70,380.7 L295.30,391.1 L295.90,400.6 L296.50,409.3 L297.09,417.2 L297.69,424.5 L298.29,431.2 L298.89,437.3 L299.49,443.0 L300.09,448.1 L300.68,452.9 L301.28,457.3 L301.88,461.4 L302.48,465.2 L303.08,468.7 L303.68,471.9 L304.27,474.9 L304.87,477.7 L305.47,480.3 L306.07,482.7 L306.67,485.0 L307.26,487.1 L307.86,489.1 L308.46,491.0 L309.06,492.7 L309.66,494.4 L310.26,495.9 L310.85,497.4 L311.45,498.8 L312.05,500.1 L312.65,501.3 L313.25,502.4 L313.85,503.5 L314.44,504.6 L315.04,505.5 L315.64,506.5 L316.24,507.3 L316.84,508.2 L317.44,509.0 L318.03,509.7 L318.63,510.5 L319.23,511.2 L319.83,511.8 L320.43,512.4 L321.03,513.0 L321.62,513.6 L322.22,514.2 L322.82,514.7 L323.42,515.2 L324.02,515.7 L324.62,516.1 L325.21,516.6 L325.81,517.0 L326.41,517.4 L327.01,517.8 L327.61,518.2 L328.21,518.5 L328.80,518.9 L329.40,519.2 L330.00,519.5 L330.60,519.8 L331.20,520.1 L331.79,520.4 L332.39,520.7 L332.99,521.0 L333.59,521.2 L334.19,521.5 L334.79,521.7 L335.38,522.0 L335.98,522.2 L336.58,522.4 L337.18,522.6 L337.78,522.8 L338.38,523.0 L338.97,523.2 L339.57,523.4 L340.17,523.6 L340.77,523.7 L341.37,523.9 L341.97,524.1 L342.56,524.2 L343.16,524.4 L343.76,524.5 L344.36,524.7 L344.96,524.8 L345.56,525.0 L346.15,525.1 L346.75,525.2 L347.35,525.4 L347.95,525.5 L348.55,525.6 L349.15,525.7 L349.74,525.8 L350.34,525.9 L350.94,526.1 L351.54,526.2 L352.14,526.3 L352.74,526.4 L353.33,526.5 L353.93,526.6 L354.53,526.6 L355.13,526.7 L355.73,526.8 L356.32,526.9 L356.92,527.0 L357.52,527.1 L358.12,527.2 L358.72,527.2 L359.32,527.3 L359.91,527.4 L360.51,527.5 L361.11,527.5 L361.71,527.6 L362.31,527.7 L362.91,527.7 L363.50,527.8 L364.10,527.9 L364.70,527.9 L365.30,528.0 L365.90,528.0 L366.50,528.1 L367.09,528.2 L367.69,528.2 L368.29,528.3 L368.89,528.3 L369.49,528.4 L370.09,528.4 L370.68,528.5 L371.28,528.5 L371.88,528.6 L372.48,528.6 L373.08,528.7 L373.68,528.7 L374.27,528.7 L374.87,528.8 L375.47,528.8 L376.07,528.9 L376.67,528.9 L377.26,529.0 L377.86,529.0 L378.46,529.0 L379.06,529.1 L379.66,529.1 L380.26,529.1 L380.85,529.2 L381.45,529.2 L382.05,529.3 L382.65,529.3 L383.25,529.3 L383.85,529.4 L384.44,529.4 L385.04,529.4 L385.64,529.4 L386.24,529.5 L386.84,529.5 L387.44,529.5 L388.03,529.6 L388.63,529.6 L389.23,529.6 L389.83,529.7 L390.43,529.7 L391.03,529.7 L391.62,529.7 L392.22,529.8 L392.82,529.8 L393.42,529.8 L394.02,529.8 L394.62,529.9 L395.21,529.9 L395.81,529.9 L396.41,529.9 L397.01,530.0 L397.61,530.0 L398.21,530.0 L398.80,530.0 L399.40,530.0 L400.00,530.1 L400.60,530.1 L401.20,530.1 L401.79,530.1 L402.39,530.1 L402.99,530.1 L403.59,530.1 L404.19,530.1 L404.79,530.1 L405.38,530.1 L405.98,530.1 L406.58,530.1 L407.18,530.1 L407.78,530.1 L408.38,530.1 L408.97,530.1 L409.57,530.1 L410.17,530.1 L410.77,530.1 L411.37,530.1 L411.97,530.1 L412.56,530.1 L413.16,530.1 L413.76,530.1 L414.36,530.1 L414.96,530.1 L415.56,530.1 L416.15,530.1 L416.75,530.1 L417.35,530.1 L417.95,530.1 L418.55,530.1 L419.15,530.1 L419.74,530.1 L420.34,530.1 L420.94,530.1 L421.54,530.1 L422.14,530.1 L422.74,530.1 L423.33,530.1 L423.93,530.1 L424.53,530.1 L425.13,530.1 L425.73,530.1 L426.32,530.1 L426.92,530.1 L427.52,530.1 L428.12,530.1 L428.72,530.1 L429.32,530.1 L429.91,530.1 L430.51,530.1 L431.11,530.1 L431.71,530.1 L432.31,530.1 L432.91,530.1 L433.50,530.1 L434.10,530.1 L434.70,530.1 L435.30,530.1 L435.90,530.1 L436.50,530.1 L437.09,530.1 L437.69,530.1 L438.29,530.1 L438.89,530.1 L439.49,530.1 L440.09,530.1 L440.68,530.1 L441.28,530.1 L441.88,530.1 L442.48,530.1 L443.08,530.1 L443.68,530.1 L444.27,530.1 L444.87,530.1 L445.47,530.1 L446.07,530.1 L446.67,530.1 L447.26,530.1 L447.86,530.1 L448.46,530.1 L449.06,530.1 L449.66,530.1 L450.26,530.1 L450.85,530.1 L451.45,530.1 L452.05,530.1 L452.65,530.1 L453.25,530.1 L453.85,530.1 L454.44,530.1 L455.04,530.1 L455.64,530.1 L456.24,530.1 L456.84,530.1 L457.44,530.1 L458.03,530.1 L458.63,530.1 L459.23,530.1 L459.83,530.1 L460.43,530.1 L461.03,530.1 L461.62,530.1 L462.22,530.1 L462.82,530.1 L463.42,530.1 L464.02,530.1 L464.62,530.1 L465.21,530.1 L465.81,530.1 L466.41,530.1 L467.01,530.1 L467.61,530.1 L468.21,530.1 L468.80,530.1 L469.40,530.1 L470.00,530.1 L470.60,530.1 L471.20,530.1 L471.79,530.1 L472.39,530.1 L472.99,530.1 L473.59,530.1 L474.19,530.1 L474.79,530.1 L475.38,530.1 L475.98,530.1 L476.58,530.1 L477.18,530.1 L477.78,530.1 L478.38,530.1 L478.97,530.1 L479.57,530.1 L480.17,530.1 L480.77,530.1 L481.37,530.1 L481.97,530.1 L482.56,530.1 L483.16,530.1 L483.76,530.1 L484.36,530.1 L484.96,530.1 L485.56,530.1 L486.15,530.1 L486.75,530.1 L487.35,530.1 L487.95,530.1 L488.55,530.1 L489.15,530.1 L489.74,530.1 L490.34,530.1 L490.94,530.1 L491.54,530.1 L492.14,530.1 L492.74,530.1 L493.33,530.1 L493.93,530.1 L494.53,530.1 L495.13,530.1 L495.73,530.1 L496.32,530.1 L496.92,530.1 L497.52,530.1 L498.12,530.1 L498.72,530.1 L499.32,530.1 L499.91,530.1 L500.51,530.1 L501.11,530.1 L501.71,530.1 L502.31,530.1 L502.91,530.1 L503.50,530.1 L504.10,530.1 L504.70,530.1 L505.30,530.1 L505.90,530.1 L506.50,530.1 L507.09,530.1 L507.69,530.1 L508.29,530.1 L508.89,530.1 L509.49,530.1 L510.09,530.1 L510.68,530.1 L511.28,530.1 L511.88,530.1 L512.48,530.1 L513.08,530.1 L513.68,530.1 L514.27,530.1 L514.87,530.1 L515.47,530.1 L516.07,530.1 L516.67,530.1 L517.26,530.1 L517.86,530.1 L518.46,530.1 L519.06,530.1 L519.66,530.1 L520.26,530.1 L520.85,530.1 L521.45,530.1 L522.05,530.1 L522.65,530.1 L523.25,530.1 L523.85,530.1 L524.44,530.1 L525.04,530.1 L525.64,530.1 L526.24,530.1 L526.84,530.1 L527.44,530.1 L528.03,530.1 L528.63,530.1 L529.23,530.1 L529.83,530.1 L530.43,530.1 L531.03,530.1 L531.62,530.1 L532.22,530.1 L532.82,530.1 L533.42,530.1 L534.02,530.1 L534.62,530.1 L535.21,530.1 L535.81,530.1 L536.41,530.1 L537.01,530.1 L537.61,530.1 L538.21,530.1 L538.80,530.1 L539.40,530.1 L540.00,530.1 L540.60,530.1 L541.20,530.1 L541.79,530.1 L542.39,530.1 L542.99,530.1 L543.59,530.1 L544.19,530.1 L544.79,530.1 L545.38,530.1 L545.98,530.1 L546.58,530.1 L547.18,530.1 L547.78,530.1 L548.38,530.1 L548.97,530.1 L549.57,530.1 L550.17,530.1 L550.77,530.1 L551.37,530.1 L551.97,530.1 L552.56,530.1 L553.16,530.1 L553.76,530.1 L554.36,530.1 L554.96,530.1 L555.56,530.1 L556.15,530.1 L556.75,530.1 L557.35,530.1 L557.95,530.1 L558.55,530.1 L559.15,530.1 L559.74,530.1 L560.34,530.1 L560.94,530.1 L561.54,530.1 L562.14,530.1 L562.74,530.1 L563.33,530.1 L563.93,530.1 L564.53,530.1 L565.13,530.1 L565.73,530.1 L566.32,530.1 L566.92,530.1 L567.52,530.1 L568.12,530.1 L568.72,530.1 L569.32,530.1 L569.91,530.1 L570.51,530.1 L571.11,530.1 L571.71,530.1 L572.31,530.1 L572.91,530.1 L573.50,530.1 L574.10,530.1 L574.70,530.1 L575.30,530.1 L575.90,530.1 L576.50,530.1 L577.09,530.1 L577.69,530.1 L578.29,530.1 L578.89,530.1 L579.49,530.1 L580.09,530.1 L580.68,530.1 L581.28,530.1 L581.88,530.1 L582.48,530.1 L583.08,530.1 L583.68,530.1 L584.27,530.1 L584.87,530.1 L585.47,530.1 L586.07,530.1 L586.67,530.1 L587.26,530.1 L587.86,530.1 L588.46,530.1 L589.06,530.1 L589.66,530.1 L590.26,530.1 L590.85,530.1 L591.45,530.1 L592.05,530.1 L592.65,530.1 L593.25,530.1 L593.85,530.1 L594.44,530.1 L595.04,530.1 L595.64,530.1 L596.24,530.1 L596.84,530.1 L597.44,530.1 L598.03,530.1 L598.63,530.1 L599.23,530.1 L599.83,530.1 L600.43,530.1 L601.03,530.1 L601.62,530.1 L602.22,530.1 L602.82,530.1 L603.42,530.1 L604.02,530.1 L604.62,530.1 L605.21,530.1 L605.81,530.1 L606.41,530.1 L607.01,530.1 L607.61,530.1 L608.21,530.1 L608.80,530.1 L609.40,530.1 L610.00,530.1 L610.60,530.1 L611.20,530.1 L611.79,530.1 L612.39,530.1 L612.99,530.1 L613.59,530.1 L614.19,530.1 L614.79,530.1 L615.38,530.1 L615.98,530.1 L616.58,530.1 L617.18,530.1 L617.78,530.1 L618.38,530.1 L618.97,530.1 L619.57,530.1 L620.17,530.1 L620.77,530.1 L621.37,530.1 L621.97,530.1 L622.56,530.1 L623.16,530.1 L623.76,530.1 L624.36,530.1 L624.96,530.1 L625.56,530.1 L626.15,530.1 L626.75,530.1 L627.35,530.1 L627.95,530.1 L628.55,530.1 L629.15,530.1 L629.74,530.1 L630.34,530.1 L630.94,530.1 L631.54,530.1 L632.14,530.1 L632.74,530.1 L633.33,530.1 L633.93,530.1 L634.53,530.1 L635.13,530.1 L635.73,530.1 L636.32,530.1 L636.92,530.1 L637.52,530.1 L638.12,530.1 L638.72,530.1 L639.32,530.1 L639.91,530.1 L640.51,530.1 L641.11,530.1 L641.71,530.1 L642.31,530.1 L642.91,530.1 L643.50,530.1 L644.10,530.1 L644.70,530.1 L645.30,530.1 L645.90,530.1 L646.50,530.1 L647.09,530.1 L647.69,530.1 L648.29,530.1 L648.89,530.1 L649.49,530.1 L650.09,530.1 L650.68,530.1 L651.28,530.1 L651.88,530.1 L652.48,530.1 L653.08,530.1 L653.68,530.1 L654.27,530.1 L654.87,530.1 L655.47,530.1 L656.07,530.1 L656.67,530.1 L657.26,530.1 L657.86,530.1 L658.46,530.1 L659.06,530.1 L659.66,530.1 L660.26,530.1 L660.85,530.1 L661.45,530.1 L662.05,530.1 L662.65,530.1 L663.25,530.1 L663.85,530.1 L664.44,530.1 L665.04,530.1 L665.64,530.1 L666.24,530.1 L666.84,530.1 L667.44,530.1 L668.03,530.1 L668.63,530.1 L669.23,530.1 L669.83,530.1 L670.43,530.1 L671.03,530.1 L671.62,530.1 L672.22,530.1 L672.82,530.1 L673.42,530.1 L674.02,530.1 L674.62,530.1 L675.21,530.1 L675.81,530.1 L676.41,530.1 L677.01,530.1 L677.61,530.1 L678.21,530.1 L678.80,530.1 L679.40,530.1 L680.00,530.1 L680.60,530.1 L681.20,530.1 L681.79,530.1 L682.39,530.1 L682.99,530.1 L683.59,530.1 L684.19,530.1 L684.79,530.1 L685.38,530.1 L685.98,530.1 L686.58,530.1 L687.18,530.1 L687.78,530.1 L688.38,530.1 L688.97,530.1 L689.57,530.1 L690.17,530.1 L690.77,530.1 L691.37,530.1 L691.97,530.1 L692.56,530.1 L693.16,530.1 L693.76,530.1 L694.36,530.1 L694.96,530.1 L695.56,530.1 L696.15,530.1 L696.75,530.1 L697.35,530.1 L697.95,530.1 L698.55,530.1 L699.15,530.1 L699.74,530.1 L700.34,530.1 L700.94,530.1 L701.54,530.1 L702.14,530.1 L702.74,530.1 L703.33,530.1 L703.93,530.1 L704.53,530.1 L705.13,530.1 L705.73,530.1 L706.32,530.1 L706.92,530.1 L707.52,530.1 L708.12,530.1 L708.72,530.1 L709.32,530.1 L709.91,530.1 L710.51,530.1 L711.11,530.1 L711.71,530.1 L712.31,530.1 L712.91,530.1 L713.50,530.1 L714.10,530.1 L714.70,530.1 L715.30,530.1 L715.90,530.1 L716.50,530.1 L717.09,530.1 L717.69,530.1 L718.29,530.1 L718.89,530.1 L719.49,530.0 L720.09,530.0 L720.68,530.0 L721.28,530.0 L721.88,530.0 L722.48,530.0 L723.08,529.9 L723.68,529.9 L724.27,529.9 L724.87,529.9 L725.47,529.8 L726.07,529.8 L726.67,529.8 L727.26,529.8 L727.86,529.7 L728.46,529.7 L729.06,529.7 L729.66,529.6 L730.26,529.6 L730.85,529.6 L731.45,529.5 L732.05,529.5 L732.65,529.5 L733.25,529.4 L733.85,529.4 L734.44,529.4 L735.04,529.3 L735.64,529.3 L736.24,529.2 L736.84,529.2 L737.44,529.1 L738.03,529.1 L738.63,529.0 L739.23,529.0 L739.83,528.9 L740.43,528.8 L741.03,528.8 L741.62,528.7 L742.22,528.6 L742.82,528.5 L743.42,528.5 L744.02,528.4 L744.62,528.3 L745.21,528.2 L745.81,528.1 L746.41,528.0 L747.01,527.9 L747.61,527.8 L748.21,527.6 L748.80,527.5 L749.40,527.4 L750.00,527.2 L750.60,527.1 L751.20,526.9 L751.79,526.7 L752.39,526.5 L752.99,526.3 L753.59,526.1 L754.19,525.9 L754.79,525.6 L755.38,525.4 L755.98,525.1 L756.58,524.8 L757.18,524.5 L757.78,524.2 L758.38,523.8 L758.97,523.4 L759.57,523.0 L760.17,522.5 L760.77,522.0 L761.37,521.5 L761.97,520.9 L762.56,520.3 L763.16,519.7 L763.76,519.0 L764.36,518.2 L764.96,517.4 L765.56,516.5 L766.15,515.5 L766.75,514.5 L767.35,513.5 L767.95,512.3 L768.55,511.1 L769.15,509.9 L769.74,508.6 L770.34,507.3 L770.94,506.0 L771.54,504.8 L772.14,503.6 L772.74,502.5 L773.33,501.5 L773.93,500.7 L774.53,500.1 L775.13,499.7 L775.73,499.6 L776.32,499.7 L776.92,500.1 L777.52,500.7 L778.12,501.5 L778.72,502.5 L779.32,503.6 L779.91,504.8 L780.51,506.0 L781.11,507.3 L781.71,508.6 L782.31,509.9 L782.91,511.1 L783.50,512.3 L784.10,513.5 L784.70,514.5 L785.30,515.5 L785.90,516.5 L786.50,517.4 L787.09,518.2 L787.69,519.0 L788.29,519.7 L788.89,520.3 L789.49,520.9 L790.09,521.5 L790.68,522.0 L791.28,522.5 L791.88,523.0 L792.48,523.4 L793.08,523.8 L793.68,524.2 L794.27,524.5 L794.87,524.8 L795.47,525.1 L796.07,525.4 L796.67,525.6 L797.26,525.9 L797.86,526.1 L798.46,526.3 L799.06,526.5 L799.66,526.7 L800.26,526.9 L800.85,527.1 L801.45,527.2 L802.05,527.4 L802.65,527.5 L803.25,527.6"/>
<path stroke="#e0823a" stroke-width="4.4" d="M127.78,529.7 L128.38,529.7 L128.97,529.7 L129.57,529.7 L130.17,529.7 L130.77,529.7 L131.37,529.7 L131.97,529.7 L132.56,529.7 L133.16,529.7 L133.76,529.7 L134.36,529.6 L134.96,529.6 L135.56,529.6 L136.15,529.6 L136.75,529.6 L137.35,529.6 L137.95,529.6 L138.55,529.6 L139.15,529.6 L139.74,529.6 L140.34,529.5 L140.94,529.5 L141.54,529.5 L142.14,529.5 L142.74,529.5 L143.33,529.5 L143.93,529.5 L144.53,529.5 L145.13,529.4 L145.73,529.4 L146.32,529.4 L146.92,529.4 L147.52,529.4 L148.12,529.4 L148.72,529.4 L149.32,529.4 L149.91,529.3 L150.51,529.3 L151.11,529.3 L151.71,529.3 L152.31,529.3 L152.91,529.3 L153.50,529.3 L154.10,529.2 L154.70,529.2 L155.30,529.2 L155.90,529.2 L156.50,529.2 L157.09,529.2 L157.69,529.1 L158.29,529.1 L158.89,529.1 L159.49,529.1 L160.09,529.1 L160.68,529.1 L161.28,529.0 L161.88,529.0 L162.48,529.0 L163.08,529.0 L163.68,529.0 L164.27,528.9 L164.87,528.9 L165.47,528.9 L166.07,528.9 L166.67,528.9 L167.26,528.8 L167.86,528.8 L168.46,528.8 L169.06,528.8 L169.66,528.8 L170.26,528.7 L170.85,528.7 L171.45,528.7 L172.05,528.7 L172.65,528.6 L173.25,528.6 L173.85,528.6 L174.44,528.6 L175.04,528.5 L175.64,528.5 L176.24,528.5 L176.84,528.5 L177.44,528.4 L178.03,528.4 L178.63,528.4 L179.23,528.4 L179.83,528.3 L180.43,528.3 L181.03,528.3 L181.62,528.2 L182.22,528.2 L182.82,528.2 L183.42,528.1 L184.02,528.1 L184.62,528.1 L185.21,528.0 L185.81,528.0 L186.41,528.0 L187.01,527.9 L187.61,527.9 L188.21,527.9 L188.80,527.8 L189.40,527.8 L190.00,527.7 L190.60,527.7 L191.20,527.7 L191.79,527.6 L192.39,527.6 L192.99,527.5 L193.59,527.5 L194.19,527.4 L194.79,527.4 L195.38,527.3 L195.98,527.3 L196.58,527.2 L197.18,527.2 L197.78,527.1 L198.38,527.1 L198.97,527.0 L199.57,527.0 L200.17,526.9 L200.77,526.9 L201.37,526.8 L201.97,526.8 L202.56,526.7 L203.16,526.6 L203.76,526.6 L204.36,526.5 L204.96,526.4 L205.56,526.4 L206.15,526.3 L206.75,526.2 L207.35,526.2 L207.95,526.1 L208.55,526.0 L209.15,525.9 L209.74,525.9 L210.34,525.8 L210.94,525.7 L211.54,525.6 L212.14,525.5 L212.74,525.4 L213.33,525.3 L213.93,525.2 L214.53,525.1 L215.13,525.0 L215.73,524.9 L216.32,524.8 L216.92,524.7 L217.52,524.6 L218.12,524.5 L218.72,524.4 L219.32,524.3 L219.91,524.2 L220.51,524.0 L221.11,523.9 L221.71,523.8 L222.31,523.6 L222.91,523.5 L223.50,523.3 L224.10,523.2 L224.70,523.0 L225.30,522.9 L225.90,522.7 L226.50,522.6 L227.09,522.4 L227.69,522.2 L228.29,522.0 L228.89,521.8 L229.49,521.6 L230.09,521.4 L230.68,521.2 L231.28,521.0 L231.88,520.8 L232.48,520.6 L233.08,520.3 L233.68,520.1 L234.27,519.8 L234.87,519.6 L235.47,519.3 L236.07,519.0 L236.67,518.7 L237.26,518.4 L237.86,518.1 L238.46,517.8 L239.06,517.4 L239.66,517.1 L240.26,516.7 L240.85,516.3 L241.45,515.9 L242.05,515.5 L242.65,515.1 L243.25,514.6 L243.85,514.1 L244.44,513.7 L245.04,513.1 L245.64,512.6 L246.24,512.1 L246.84,511.5 L247.44,510.9 L248.03,510.2 L248.63,509.6 L249.23,508.9 L249.83,508.1 L250.43,507.3 L251.03,506.5 L251.62,505.7 L252.22,504.8 L252.82,503.8 L253.42,502.8 L254.02,501.8 L254.62,500.7 L255.21,499.5 L255.81,498.3 L256.41,496.9 L257.01,495.6 L257.61,494.1 L258.21,492.5 L258.80,490.8 L259.40,489.1 L260.00,487.2 L260.60,485.2 L261.20,483.0 L261.79,480.7 L262.39,478.3 L262.99,475.6 L263.59,472.8 L264.19,469.8 L264.79,466.5 L265.38,463.0 L265.98,459.2 L266.58,455.1 L267.18,450.6 L267.78,445.9 L268.38,440.7 L268.97,435.0 L269.57,428.9 L270.17,422.2 L270.77,415.0 L271.37,407.1 L271.97,398.5 L272.56,389.1 L273.16,378.9 L273.76,367.7 L274.36,355.6 L274.96,342.5 L275.56,328.3 L276.15,312.9 L276.75,296.5 L277.35,279.0 L277.95,260.6 L278.55,241.4 L279.15,221.7 L279.74,201.9 L280.34,182.6 L280.94,164.2 L281.54,147.6 L282.14,133.5 L282.74,122.6 L283.33,115.5 L283.93,112.6 L284.53,114.2 L285.13,120.1 L285.73,130.0 L286.32,143.3 L286.92,159.3 L287.52,177.3 L288.12,196.4 L288.72,216.2 L289.32,236.0 L289.91,255.4 L290.51,274.1 L291.11,292.0 L291.71,308.8 L292.31,324.4 L292.91,339.0 L293.50,352.5 L294.10,365.0 L294.70,376.4 L295.30,386.9 L295.90,396.6 L296.50,405.4 L297.09,413.6 L297.69,421.0 L298.29,427.9 L298.89,434.2 L299.49,440.0 L300.09,445.3 L300.68,450.2 L301.28,454.8 L301.88,459.0 L302.48,462.9 L303.08,466.5 L303.68,469.8 L304.27,473.0 L304.87,475.9 L305.47,478.6 L306.07,481.1 L306.67,483.4 L307.26,485.6 L307.86,487.7 L308.46,489.6 L309.06,491.4 L309.66,493.1 L310.26,494.7 L310.85,496.2 L311.45,497.7 L312.05,499.0 L312.65,500.3 L313.25,501.5 L313.85,502.6 L314.44,503.7 L315.04,504.7 L315.64,505.6 L316.24,506.6 L316.84,507.4 L317.44,508.2 L318.03,509.0 L318.63,509.8 L319.23,510.5 L319.83,511.2 L320.43,511.8 L321.03,512.4 L321.62,513.0 L322.22,513.6 L322.82,514.1 L323.42,514.7 L324.02,515.2 L324.62,515.6 L325.21,516.1 L325.81,516.5 L326.41,517.0 L327.01,517.4 L327.61,517.7 L328.21,518.1 L328.80,518.5 L329.40,518.8 L330.00,519.2 L330.60,519.5 L331.20,519.8 L331.79,520.1 L332.39,520.4 L332.99,520.6 L333.59,520.9 L334.19,521.2 L334.79,521.4 L335.38,521.7 L335.98,521.9 L336.58,522.1 L337.18,522.3 L337.78,522.6 L338.38,522.8 L338.97,523.0 L339.57,523.1 L340.17,523.3 L340.77,523.5 L341.37,523.7 L341.97,523.9 L342.56,524.0 L343.16,524.2 L343.76,524.3 L344.36,524.5 L344.96,524.6 L345.56,524.8 L346.15,524.9 L346.75,525.0 L347.35,525.2 L347.95,525.3 L348.55,525.4 L349.15,525.5 L349.74,525.7 L350.34,525.8 L350.94,525.9 L351.54,526.0 L352.14,526.1 L352.74,526.2 L353.33,526.3 L353.93,526.4 L354.53,526.5 L355.13,526.6 L355.73,526.7 L356.32,526.8 L356.92,526.9 L357.52,526.9 L358.12,527.0 L358.72,527.1 L359.32,527.2 L359.91,527.3 L360.51,527.3 L361.11,527.4 L361.71,527.5 L362.31,527.5 L362.91,527.6 L363.50,527.7 L364.10,527.7 L364.70,527.8 L365.30,527.9 L365.90,527.9 L366.50,528.0 L367.09,528.0 L367.69,528.1 L368.29,528.2 L368.89,528.2 L369.49,528.3 L370.09,528.3 L370.68,528.4 L371.28,528.4 L371.88,528.5 L372.48,528.5 L373.08,528.6 L373.68,528.6 L374.27,528.7 L374.87,528.7 L375.47,528.8 L376.07,528.8 L376.67,528.8 L377.26,528.9 L377.86,528.9 L378.46,529.0 L379.06,529.0 L379.66,529.0 L380.26,529.1 L380.85,529.1 L381.45,529.1 L382.05,529.2 L382.65,529.2 L383.25,529.3 L383.85,529.3 L384.44,529.3 L385.04,529.4 L385.64,529.4 L386.24,529.4 L386.84,529.4 L387.44,529.5 L388.03,529.5 L388.63,529.5 L389.23,529.6 L389.83,529.6 L390.43,529.6 L391.03,529.6 L391.62,529.7 L392.22,529.7 L392.82,529.7 L393.42,529.8 L394.02,529.8 L394.62,529.8 L395.21,529.8 L395.81,529.9 L396.41,529.9 L397.01,529.9 L397.61,529.9 L398.21,529.9 L398.80,530.0 L399.40,530.0 L400.00,530.0 L400.60,530.0 L401.20,530.1 L401.79,530.1 L402.39,530.1 L402.99,530.1 L403.59,530.1 L404.19,530.1 L404.79,530.1 L405.38,530.1 L405.98,530.1 L406.58,530.1 L407.18,530.1 L407.78,530.1 L408.38,530.1 L408.97,530.1 L409.57,530.1 L410.17,530.1 L410.77,530.1 L411.37,530.1 L411.97,530.1 L412.56,530.1 L413.16,530.1 L413.76,530.1 L414.36,530.1 L414.96,530.1 L415.56,530.1 L416.15,530.1 L416.75,530.1 L417.35,530.1 L417.95,530.1 L418.55,530.1 L419.15,530.1 L419.74,530.1 L420.34,530.1 L420.94,530.1 L421.54,530.1 L422.14,530.1 L422.74,530.1 L423.33,530.1 L423.93,530.1 L424.53,530.1 L425.13,530.1 L425.73,530.1 L426.32,530.1 L426.92,530.1 L427.52,530.1 L428.12,530.1 L428.72,530.1 L429.32,530.1 L429.91,530.1 L430.51,530.1 L431.11,530.1 L431.71,530.1 L432.31,530.1 L432.91,530.1 L433.50,530.1 L434.10,530.1 L434.70,530.1 L435.30,530.1 L435.90,530.1 L436.50,530.1 L437.09,530.1 L437.69,530.1 L438.29,530.1 L438.89,530.1 L439.49,530.1 L440.09,530.1 L440.68,530.1 L441.28,530.1 L441.88,530.1 L442.48,530.1 L443.08,530.1 L443.68,530.1 L444.27,530.1 L444.87,530.1 L445.47,530.1 L446.07,530.1 L446.67,530.1 L447.26,530.1 L447.86,530.1 L448.46,530.1 L449.06,530.1 L449.66,530.1 L450.26,530.1 L450.85,530.1 L451.45,530.1 L452.05,530.1 L452.65,530.1 L453.25,530.1 L453.85,530.1 L454.44,530.1 L455.04,530.1 L455.64,530.1 L456.24,530.1 L456.84,530.1 L457.44,530.1 L458.03,530.1 L458.63,530.1 L459.23,530.1 L459.83,530.1 L460.43,530.1 L461.03,530.1 L461.62,530.1 L462.22,530.1 L462.82,530.1 L463.42,530.1 L464.02,530.1 L464.62,530.1 L465.21,530.1 L465.81,530.1 L466.41,530.1 L467.01,530.1 L467.61,530.1 L468.21,530.1 L468.80,530.1 L469.40,530.1 L470.00,530.1 L470.60,530.1 L471.20,530.1 L471.79,530.1 L472.39,530.1 L472.99,530.1 L473.59,530.1 L474.19,530.1 L474.79,530.1 L475.38,530.1 L475.98,530.1 L476.58,530.1 L477.18,530.1 L477.78,530.1 L478.38,530.1 L478.97,530.1 L479.57,530.1 L480.17,530.1 L480.77,530.1 L481.37,530.1 L481.97,530.1 L482.56,530.1 L483.16,530.1 L483.76,530.1 L484.36,530.1 L484.96,530.1 L485.56,530.1 L486.15,530.1 L486.75,530.1 L487.35,530.1 L487.95,530.1 L488.55,530.1 L489.15,530.1 L489.74,530.1 L490.34,530.1 L490.94,530.1 L491.54,530.1 L492.14,530.1 L492.74,530.1 L493.33,530.1 L493.93,530.1 L494.53,530.1 L495.13,530.1 L495.73,530.1 L496.32,530.1 L496.92,530.1 L497.52,530.1 L498.12,530.1 L498.72,530.1 L499.32,530.1 L499.91,530.1 L500.51,530.1 L501.11,530.1 L501.71,530.1 L502.31,530.1 L502.91,530.1 L503.50,530.1 L504.10,530.1 L504.70,530.1 L505.30,530.1 L505.90,530.1 L506.50,530.1 L507.09,530.1 L507.69,530.1 L508.29,530.1 L508.89,530.1 L509.49,530.1 L510.09,530.1 L510.68,530.1 L511.28,530.1 L511.88,530.1 L512.48,530.1 L513.08,530.1 L513.68,530.1 L514.27,530.1 L514.87,530.1 L515.47,530.1 L516.07,530.1 L516.67,530.1 L517.26,530.1 L517.86,530.1 L518.46,530.1 L519.06,530.1 L519.66,530.1 L520.26,530.1 L520.85,530.1 L521.45,530.1 L522.05,530.1 L522.65,530.1 L523.25,530.1 L523.85,530.1 L524.44,530.1 L525.04,530.1 L525.64,530.1 L526.24,530.1 L526.84,530.1 L527.44,530.1 L528.03,530.1 L528.63,530.1 L529.23,530.1 L529.83,530.1 L530.43,530.1 L531.03,530.1 L531.62,530.1 L532.22,530.1 L532.82,530.1 L533.42,530.1 L534.02,530.1 L534.62,530.1 L535.21,530.1 L535.81,530.1 L536.41,530.1 L537.01,530.1 L537.61,530.1 L538.21,530.1 L538.80,530.1 L539.40,530.1 L540.00,530.1 L540.60,530.1 L541.20,530.1 L541.79,530.1 L542.39,530.1 L542.99,530.1 L543.59,530.1 L544.19,530.1 L544.79,530.1 L545.38,530.1 L545.98,530.1 L546.58,530.1 L547.18,530.1 L547.78,530.1 L548.38,530.1 L548.97,530.1 L549.57,530.1 L550.17,530.1 L550.77,530.1 L551.37,530.1 L551.97,530.1 L552.56,530.1 L553.16,530.1 L553.76,530.1 L554.36,530.1 L554.96,530.1 L555.56,530.1 L556.15,530.1 L556.75,530.1 L557.35,530.1 L557.95,530.1 L558.55,530.1 L559.15,530.1 L559.74,530.1 L560.34,530.1 L560.94,530.1 L561.54,530.1 L562.14,530.1 L562.74,530.1 L563.33,530.1 L563.93,530.1 L564.53,530.1 L565.13,530.1 L565.73,530.1 L566.32,530.1 L566.92,530.1 L567.52,530.1 L568.12,530.1 L568.72,530.1 L569.32,530.1 L569.91,530.1 L570.51,530.1 L571.11,530.1 L571.71,530.1 L572.31,530.1 L572.91,530.1 L573.50,530.1 L574.10,530.1 L574.70,530.1 L575.30,530.1 L575.90,530.1 L576.50,530.1 L577.09,530.1 L577.69,530.1 L578.29,530.1 L578.89,530.1 L579.49,530.1 L580.09,530.1 L580.68,530.1 L581.28,530.1 L581.88,530.1 L582.48,530.1 L583.08,530.1 L583.68,530.1 L584.27,530.1 L584.87,530.1 L585.47,530.1 L586.07,530.1 L586.67,530.1 L587.26,530.1 L587.86,530.1 L588.46,530.1 L589.06,530.1 L589.66,530.1 L590.26,530.1 L590.85,530.1 L591.45,530.1 L592.05,530.1 L592.65,530.1 L593.25,530.1 L593.85,530.1 L594.44,530.1 L595.04,530.1 L595.64,530.1 L596.24,530.1 L596.84,530.1 L597.44,530.1 L598.03,530.1 L598.63,530.1 L599.23,530.1 L599.83,530.1 L600.43,530.1 L601.03,530.1 L601.62,530.1 L602.22,530.1 L602.82,530.1 L603.42,530.1 L604.02,530.1 L604.62,530.1 L605.21,530.1 L605.81,530.1 L606.41,530.1 L607.01,530.1 L607.61,530.1 L608.21,530.1 L608.80,530.1 L609.40,530.1 L610.00,530.1 L610.60,530.1 L611.20,530.1 L611.79,530.1 L612.39,530.1 L612.99,530.1 L613.59,530.1 L614.19,530.1 L614.79,530.1 L615.38,530.1 L615.98,530.1 L616.58,530.1 L617.18,530.1 L617.78,530.1 L618.38,530.1 L618.97,530.1 L619.57,530.1 L620.17,530.1 L620.77,530.1 L621.37,530.1 L621.97,530.1 L622.56,530.1 L623.16,530.1 L623.76,530.1 L624.36,530.1 L624.96,530.1 L625.56,530.1 L626.15,530.1 L626.75,530.1 L627.35,530.1 L627.95,530.1 L628.55,530.1 L629.15,530.1 L629.74,530.1 L630.34,530.1 L630.94,530.1 L631.54,530.1 L632.14,530.1 L632.74,530.1 L633.33,530.1 L633.93,530.1 L634.53,530.1 L635.13,530.1 L635.73,530.1 L636.32,530.1 L636.92,530.1 L637.52,530.1 L638.12,530.1 L638.72,530.1 L639.32,530.1 L639.91,530.1 L640.51,530.1 L641.11,530.1 L641.71,530.1 L642.31,530.1 L642.91,530.1 L643.50,530.1 L644.10,530.1 L644.70,530.1 L645.30,530.1 L645.90,530.1 L646.50,530.1 L647.09,530.1 L647.69,530.1 L648.29,530.1 L648.89,530.1 L649.49,530.1 L650.09,530.1 L650.68,530.1 L651.28,530.1 L651.88,530.1 L652.48,530.1 L653.08,530.1 L653.68,530.1 L654.27,530.1 L654.87,530.1 L655.47,530.1 L656.07,530.1 L656.67,530.1 L657.26,530.1 L657.86,530.1 L658.46,530.1 L659.06,530.1 L659.66,530.1 L660.26,530.1 L660.85,530.1 L661.45,530.1 L662.05,530.1 L662.65,530.1 L663.25,530.1 L663.85,530.1 L664.44,530.1 L665.04,530.1 L665.64,530.1 L666.24,530.1 L666.84,530.1 L667.44,530.1 L668.03,530.1 L668.63,530.1 L669.23,530.1 L669.83,530.1 L670.43,530.1 L671.03,530.1 L671.62,530.1 L672.22,530.1 L672.82,530.1 L673.42,530.1 L674.02,530.1 L674.62,530.1 L675.21,530.1 L675.81,530.1 L676.41,530.1 L677.01,530.1 L677.61,530.1 L678.21,530.1 L678.80,530.1 L679.40,530.1 L680.00,530.1 L680.60,530.1 L681.20,530.1 L681.79,530.1 L682.39,530.1 L682.99,530.1 L683.59,530.1 L684.19,530.1 L684.79,530.1 L685.38,530.1 L685.98,530.1 L686.58,530.1 L687.18,530.1 L687.78,530.1 L688.38,530.1 L688.97,530.1 L689.57,530.1 L690.17,530.1 L690.77,530.1 L691.37,530.1 L691.97,530.1 L692.56,530.1 L693.16,530.1 L693.76,530.1 L694.36,530.1 L694.96,530.1 L695.56,530.1 L696.15,530.1 L696.75,530.1 L697.35,530.1 L697.95,530.1 L698.55,530.1 L699.15,530.1 L699.74,530.1 L700.34,530.1 L700.94,530.1 L701.54,530.1 L702.14,530.1 L702.74,530.1 L703.33,530.1 L703.93,530.1 L704.53,530.1 L705.13,530.1 L705.73,530.1 L706.32,530.1 L706.92,530.1 L707.52,530.1 L708.12,530.1 L708.72,530.1 L709.32,530.1 L709.91,530.1 L710.51,530.1 L711.11,530.1 L711.71,530.1 L712.31,530.1 L712.91,530.1 L713.50,530.1 L714.10,530.1 L714.70,530.1 L715.30,530.1 L715.90,530.1 L716.50,530.1 L717.09,530.1 L717.69,530.1 L718.29,530.0 L718.89,530.0 L719.49,530.0 L720.09,530.0 L720.68,530.0 L721.28,529.9 L721.88,529.9 L722.48,529.9 L723.08,529.9 L723.68,529.8 L724.27,529.8 L724.87,529.8 L725.47,529.8 L726.07,529.7 L726.67,529.7 L727.26,529.7 L727.86,529.6 L728.46,529.6 L729.06,529.6 L729.66,529.5 L730.26,529.5 L730.85,529.5 L731.45,529.4 L732.05,529.4 L732.65,529.3 L733.25,529.3 L733.85,529.2 L734.44,529.2 L735.04,529.1 L735.64,529.1 L736.24,529.0 L736.84,529.0 L737.44,528.9 L738.03,528.8 L738.63,528.8 L739.23,528.7 L739.83,528.6 L740.43,528.5 L741.03,528.4 L741.62,528.4 L742.22,528.3 L742.82,528.2 L743.42,528.1 L744.02,527.9 L744.62,527.8 L745.21,527.7 L745.81,527.6 L746.41,527.4 L747.01,527.3 L747.61,527.1 L748.21,527.0 L748.80,526.8 L749.40,526.6 L750.00,526.4 L750.60,526.2 L751.20,525.9 L751.79,525.7 L752.39,525.4 L752.99,525.1 L753.59,524.8 L754.19,524.5 L754.79,524.2 L755.38,523.8 L755.98,523.4 L756.58,522.9 L757.18,522.5 L757.78,522.0 L758.38,521.4 L758.97,520.8 L759.57,520.2 L760.17,519.5 L760.77,518.8 L761.37,518.0 L761.97,517.1 L762.56,516.2 L763.16,515.3 L763.76,514.3 L764.36,513.2 L764.96,512.1 L765.56,510.9 L766.15,509.7 L766.75,508.5 L767.35,507.4 L767.95,506.2 L768.55,505.2 L769.15,504.2 L769.74,503.4 L770.34,502.8 L770.94,502.3 L771.54,502.1 L772.14,502.1 L772.74,502.4 L773.33,502.9 L773.93,503.5 L774.53,504.3 L775.13,505.3 L775.73,506.4 L776.32,507.5 L776.92,508.7 L777.52,509.9 L778.12,511.1 L778.72,512.2 L779.32,513.3 L779.91,514.4 L780.51,515.4 L781.11,516.4 L781.71,517.3 L782.31,518.1 L782.91,518.9 L783.50,519.6 L784.10,520.3 L784.70,520.9 L785.30,521.5 L785.90,522.0 L786.50,522.5 L787.09,523.0 L787.69,523.4 L788.29,523.8 L788.89,524.2 L789.49,524.6 L790.09,524.9 L790.68,525.2 L791.28,525.5 L791.88,525.7 L792.48,526.0 L793.08,526.2 L793.68,526.4 L794.27,526.6 L794.87,526.8 L795.47,527.0 L796.07,527.1 L796.67,527.3 L797.26,527.4 L797.86,527.6 L798.46,527.7 L799.06,527.8 L799.66,528.0 L800.26,528.1 L800.85,528.2 L801.45,528.3 L802.05,528.4 L802.65,528.5 L803.25,528.5"/>
</g></g>
<line x1="652.8" x2="703.6" y1="95.4" y2="95.4" stroke="#416fab" stroke-width="4.4" stroke-linecap="round"/>
<text class="leg" x="710.4" y="102.7" textLength="55.6" lengthAdjust="spacingAndGlyphs">PZT 1</text>
<line x1="652.8" x2="703.6" y1="162.2" y2="162.2" stroke="#87a648" stroke-width="4.2" stroke-linecap="round"/>
<text class="leg" x="710.4" y="169.5" textLength="55.6" lengthAdjust="spacingAndGlyphs">PZT 2</text>
<line x1="652.8" x2="703.6" y1="229.6" y2="229.6" stroke="#6f5593" stroke-width="5.6" stroke-linecap="round"/>
<text class="leg" x="710.4" y="237.3" textLength="55.6" lengthAdjust="spacingAndGlyphs">PZT 3</text>
<line x1="652.8" x2="703.6" y1="297.8" y2="297.8" stroke="#3b99b5" stroke-width="5.4" stroke-linecap="round"/>
<text class="leg" x="710.4" y="305.6" textLength="55.6" lengthAdjust="spacingAndGlyphs">PZT 4</text>
<line x1="652.8" x2="703.6" y1="365.5" y2="365.5" stroke="#e0823a" stroke-width="4.6" stroke-linecap="round"/>
<text class="leg" x="710.4" y="373.5" textLength="55.6" lengthAdjust="spacingAndGlyphs">PZT 5</text>
<text class="ttl" x="454.6" y="626.6" textLength="227.6" lengthAdjust="spacingAndGlyphs">Frequency (kHz)</text>
<text class="vttl" transform="translate(45.2,403.6) rotate(-90)" textLength="181.5" lengthAdjust="spacingAndGlyphs">Conductance</text>
</svg>
</body>
</html>
